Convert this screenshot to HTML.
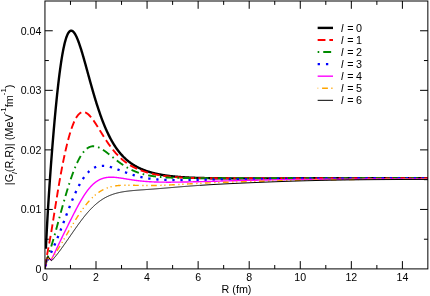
<!DOCTYPE html>
<html><head><meta charset="utf-8"><title>chart</title>
<style>html,body{margin:0;padding:0;background:#fff;overflow:hidden}svg{display:block;will-change:transform}</style></head>
<body>
<svg width="430" height="296" viewBox="0 0 430 296">
<rect width="430" height="296" fill="#fff"/>
<clipPath id="c"><rect x="44.95" y="1.0" width="382.90000000000003" height="267.9"/></clipPath>
<g clip-path="url(#c)" fill="none" stroke-linejoin="round">
<path d="M45.85,248.81 L46.10,243.67 L46.35,238.70 L46.60,233.86 L46.85,229.16 L47.10,224.59 L47.35,220.13 L47.60,215.79 L47.85,211.54 L48.10,207.39 L48.35,203.32 L48.60,199.34 L48.85,195.44 L49.10,191.60 L49.35,187.84 L49.60,184.14 L49.85,180.51 L50.10,176.93 L50.35,173.41 L50.60,169.94 L50.85,166.52 L51.10,163.15 L51.35,159.83 L51.60,156.55 L51.85,153.31 L52.10,150.12 L52.35,146.98 L52.60,143.87 L52.85,140.80 L53.10,137.78 L53.35,134.79 L53.60,131.85 L53.85,128.94 L54.10,126.07 L54.35,123.24 L54.60,120.45 L54.85,117.70 L55.10,114.99 L55.35,112.32 L55.60,109.68 L55.85,107.09 L56.10,104.54 L56.35,102.03 L56.60,99.56 L56.85,97.13 L57.10,94.74 L57.35,92.39 L57.60,90.09 L57.85,87.83 L58.10,85.61 L58.35,83.43 L58.60,81.30 L58.85,79.21 L59.10,77.17 L59.35,75.17 L59.60,73.21 L59.85,71.30 L60.10,69.43 L60.35,67.61 L60.60,65.83 L60.85,64.10 L61.10,62.41 L61.35,60.77 L61.60,59.18 L61.85,57.63 L62.10,56.13 L62.35,54.67 L62.60,53.26 L62.85,51.89 L63.10,50.57 L63.35,49.29 L63.60,48.06 L63.85,46.88 L64.10,45.74 L64.35,44.64 L64.60,43.59 L64.85,42.58 L65.10,41.62 L65.35,40.70 L65.60,39.82 L65.85,38.99 L66.10,38.20 L66.35,37.45 L66.60,36.75 L66.85,36.08 L67.10,35.46 L67.35,34.88 L67.60,34.33 L67.85,33.83 L68.10,33.37 L68.35,32.94 L68.60,32.56 L68.85,32.21 L69.10,31.90 L69.35,31.62 L69.60,31.38 L69.85,31.18 L70.10,31.01 L70.35,30.88 L70.60,30.78 L70.85,30.72 L71.10,30.68 L71.35,30.68 L71.60,30.71 L71.85,30.78 L72.10,30.87 L72.35,30.99 L72.60,31.14 L72.85,31.32 L73.10,31.53 L73.35,31.77 L73.60,32.03 L73.85,32.32 L74.10,32.63 L74.35,32.97 L74.60,33.34 L74.85,33.72 L75.10,34.13 L75.35,34.57 L75.60,35.02 L75.85,35.50 L76.10,35.99 L76.35,36.51 L76.60,37.05 L76.85,37.60 L77.10,38.18 L77.35,38.77 L77.60,39.38 L77.85,40.00 L78.10,40.64 L78.35,41.30 L78.60,41.97 L78.85,42.66 L79.10,43.36 L79.35,44.08 L79.60,44.80 L79.85,45.54 L80.10,46.30 L80.35,47.06 L80.60,47.83 L80.85,48.62 L81.10,49.41 L81.35,50.22 L81.60,51.03 L81.85,51.85 L82.10,52.68 L82.35,53.52 L82.60,54.37 L82.85,55.22 L83.10,56.08 L83.35,56.94 L83.60,57.81 L83.85,58.69 L84.10,59.57 L84.35,60.46 L84.60,61.34 L84.85,62.24 L85.10,63.13 L85.35,64.03 L85.60,64.94 L85.85,65.84 L86.10,66.75 L86.35,67.66 L86.60,68.57 L86.85,69.48 L87.10,70.39 L87.35,71.31 L87.60,72.22 L87.85,73.13 L88.10,74.05 L88.35,74.96 L88.60,75.87 L88.85,76.78 L89.10,77.69 L89.35,78.60 L89.60,79.51 L89.85,80.42 L90.10,81.32 L90.35,82.22 L90.60,83.12 L90.85,84.02 L91.10,84.91 L91.35,85.80 L91.60,86.69 L91.85,87.57 L92.10,88.45 L92.35,89.33 L92.60,90.20 L92.85,91.07 L93.10,91.94 L93.35,92.80 L93.60,93.66 L93.85,94.51 L94.10,95.36 L94.35,96.20 L94.60,97.04 L94.85,97.87 L95.10,98.70 L95.35,99.53 L95.60,100.35 L95.85,101.16 L96.10,101.97 L96.35,102.77 L96.60,103.57 L96.85,104.36 L97.10,105.15 L97.35,105.93 L97.60,106.70 L97.85,107.47 L98.10,108.24 L98.35,109.00 L98.60,109.75 L98.85,110.49 L99.10,111.23 L99.35,111.97 L99.60,112.70 L99.85,113.42 L100.10,114.14 L100.35,114.85 L100.60,115.55 L100.85,116.25 L101.10,116.94 L101.35,117.63 L101.60,118.31 L101.85,118.98 L102.10,119.65 L102.35,120.31 L102.60,120.96 L102.85,121.61 L103.10,122.26 L103.35,122.89 L103.60,123.53 L103.85,124.15 L104.10,124.77 L104.35,125.38 L104.60,125.99 L104.85,126.59 L105.10,127.18 L105.35,127.77 L105.60,128.35 L105.85,128.93 L106.10,129.50 L106.35,130.07 L106.60,130.63 L106.85,131.18 L107.10,131.73 L107.35,132.27 L107.60,132.80 L107.85,133.33 L108.10,133.86 L108.35,134.38 L108.60,134.89 L108.85,135.40 L109.10,135.90 L109.35,136.40 L109.60,136.89 L109.85,137.38 L110.10,137.86 L110.35,138.33 L110.60,138.80 L110.85,139.26 L111.10,139.72 L111.35,140.18 L111.60,140.63 L111.85,141.07 L112.10,141.51 L112.35,141.94 L112.60,142.37 L112.85,142.80 L113.10,143.22 L113.35,143.63 L113.60,144.04 L113.85,144.44 L114.10,144.84 L114.35,145.24 L114.60,145.63 L114.85,146.02 L115.10,146.40 L115.35,146.77 L115.60,147.15 L115.85,147.51 L116.10,147.88 L116.35,148.24 L116.60,148.59 L116.85,148.94 L117.10,149.29 L117.35,149.63 L117.60,149.97 L117.85,150.31 L118.10,150.64 L118.35,150.96 L118.60,151.29 L118.85,151.61 L119.10,151.92 L119.35,152.23 L119.60,152.54 L119.85,152.84 L120.10,153.14 L120.35,153.44 L120.60,153.73 L120.85,154.02 L121.10,154.31 L121.35,154.59 L121.60,154.87 L121.85,155.14 L122.10,155.42 L122.35,155.69 L122.60,155.95 L122.85,156.21 L123.10,156.47 L123.35,156.73 L123.60,156.98 L123.85,157.23 L124.10,157.48 L124.35,157.72 L124.60,157.97 L124.85,158.20 L125.10,158.44 L125.35,158.67 L125.60,158.90 L125.85,159.13 L126.10,159.35 L126.35,159.57 L126.60,159.79 L126.85,160.01 L127.10,160.22 L127.35,160.43 L127.60,160.64 L127.85,160.85 L128.10,161.05 L128.35,161.25 L128.60,161.45 L128.85,161.65 L129.10,161.84 L129.35,162.03 L129.60,162.22 L129.85,162.41 L130.10,162.59 L130.35,162.77 L130.60,162.95 L130.85,163.13 L131.10,163.31 L131.35,163.48 L131.60,163.65 L131.85,163.82 L132.10,163.99 L132.35,164.16 L132.60,164.32 L132.85,164.48 L133.10,164.64 L133.35,164.80 L133.60,164.96 L133.85,165.11 L134.10,165.26 L134.35,165.42 L134.60,165.56 L134.85,165.71 L135.10,165.86 L135.35,166.00 L135.60,166.14 L135.85,166.28 L136.10,166.42 L136.35,166.56 L136.60,166.70 L136.85,166.83 L137.10,166.96 L137.35,167.09 L137.60,167.22 L137.85,167.35 L138.10,167.48 L138.35,167.60 L138.60,167.73 L138.85,167.85 L139.10,167.97 L139.35,168.09 L139.60,168.21 L139.85,168.32 L140.10,168.44 L140.35,168.55 L140.60,168.67 L140.85,168.78 L141.10,168.89 L141.35,169.00 L141.60,169.10 L141.85,169.21 L142.10,169.32 L142.35,169.42 L142.60,169.52 L142.85,169.62 L143.10,169.73 L143.35,169.83 L143.60,169.92 L143.85,170.02 L144.10,170.12 L144.35,170.21 L144.60,170.31 L144.85,170.40 L145.10,170.49 L145.35,170.58 L145.60,170.67 L145.85,170.76 L146.10,170.85 L146.35,170.94 L146.60,171.02 L146.85,171.11 L147.10,171.19 L147.35,171.27 L147.60,171.36 L147.85,171.44 L148.10,171.52 L148.35,171.60 L148.60,171.68 L148.85,171.75 L149.10,171.83 L149.35,171.91 L149.60,171.98 L149.85,172.06 L150.10,172.13 L150.35,172.20 L150.60,172.28 L150.85,172.35 L151.10,172.42 L151.35,172.49 L151.60,172.56 L151.85,172.62 L152.10,172.69 L152.35,172.76 L152.60,172.82 L152.85,172.89 L153.10,172.95 L153.35,173.02 L153.60,173.08 L153.85,173.14 L154.10,173.21 L154.35,173.27 L154.60,173.33 L154.85,173.39 L155.10,173.45 L155.35,173.51 L155.60,173.56 L155.85,173.62 L156.10,173.68 L156.35,173.73 L156.60,173.79 L156.85,173.84 L157.10,173.90 L157.35,173.95 L157.60,174.00 L157.85,174.06 L158.10,174.11 L158.35,174.16 L158.60,174.21 L158.85,174.26 L159.10,174.31 L159.35,174.36 L159.60,174.41 L159.85,174.46 L160.10,174.50 L160.35,174.55 L160.60,174.60 L160.85,174.64 L161.10,174.69 L161.35,174.73 L161.60,174.78 L161.85,174.82 L162.10,174.87 L162.35,174.91 L162.60,174.95 L162.85,174.99 L163.10,175.04 L163.35,175.08 L163.60,175.12 L163.85,175.16 L164.10,175.20 L164.35,175.24 L164.60,175.28 L164.85,175.32 L165.10,175.35 L165.35,175.39 L165.60,175.43 L165.85,175.47 L166.10,175.50 L166.35,175.54 L166.60,175.57 L166.85,175.61 L167.10,175.64 L167.35,175.68 L167.60,175.71 L167.85,175.75 L168.10,175.78 L168.35,175.81 L168.60,175.85 L168.85,175.88 L169.10,175.91 L169.35,175.94 L169.60,175.97 L169.85,176.00 L170.10,176.04 L170.35,176.07 L170.60,176.10 L170.85,176.12 L171.10,176.15 L171.35,176.18 L171.60,176.21 L171.85,176.24 L172.10,176.27 L172.35,176.30 L172.60,176.32 L172.85,176.35 L173.10,176.38 L173.35,176.40 L173.60,176.43 L173.85,176.45 L174.10,176.48 L174.35,176.50 L174.60,176.53 L174.85,176.55 L175.10,176.58 L175.35,176.60 L175.60,176.63 L175.85,176.65 L176.10,176.67 L176.35,176.70 L176.60,176.72 L176.85,176.74 L177.10,176.76 L177.35,176.79 L177.60,176.81 L177.85,176.83 L178.10,176.85 L178.35,176.87 L178.60,176.89 L178.85,176.91 L179.10,176.93 L179.35,176.95 L179.60,176.97 L179.85,176.99 L180.10,177.01 L180.35,177.03 L180.60,177.05 L180.85,177.07 L181.10,177.08 L181.35,177.10 L181.60,177.12 L181.85,177.14 L182.10,177.16 L182.35,177.17 L182.60,177.19 L182.85,177.21 L183.10,177.22 L183.35,177.24 L183.60,177.26 L183.85,177.27 L184.10,177.29 L184.35,177.30 L184.60,177.32 L184.85,177.33 L185.10,177.35 L185.35,177.36 L185.60,177.38 L185.85,177.39 L186.10,177.41 L186.35,177.42 L186.60,177.44 L186.85,177.45 L187.10,177.46 L187.35,177.48 L187.60,177.49 L187.85,177.50 L188.10,177.52 L188.35,177.53 L188.60,177.54 L188.85,177.55 L189.10,177.57 L189.35,177.58 L189.60,177.59 L189.85,177.60 L190.10,177.61 L190.35,177.63 L190.60,177.64 L190.85,177.65 L191.10,177.66 L191.35,177.67 L191.60,177.68 L191.85,177.69 L192.10,177.70 L192.35,177.71 L192.60,177.72 L192.85,177.73 L193.10,177.74 L193.35,177.75 L193.60,177.76 L193.85,177.77 L194.10,177.78 L194.35,177.79 L194.60,177.80 L194.85,177.81 L195.10,177.82 L195.35,177.83 L195.60,177.84 L195.85,177.84 L196.10,177.85 L196.35,177.86 L196.60,177.87 L196.85,177.88 L197.10,177.89 L197.35,177.89 L197.60,177.90 L197.85,177.91 L198.10,177.92 L198.35,177.92 L198.60,177.93 L198.85,177.94 L199.10,177.95 L199.35,177.95 L199.60,177.96 L199.85,177.97 L200.00,177.97 L201.00,178.00 L202.00,178.02 L203.00,178.05 L204.00,178.07 L205.00,178.09 L206.00,178.11 L207.00,178.13 L208.00,178.14 L209.00,178.16 L210.00,178.18 L211.00,178.19 L212.00,178.20 L213.00,178.22 L214.00,178.23 L215.00,178.24 L216.00,178.25 L217.00,178.26 L218.00,178.27 L219.00,178.28 L220.00,178.28 L221.00,178.29 L222.00,178.30 L223.00,178.30 L224.00,178.31 L225.00,178.31 L226.00,178.32 L227.00,178.32 L228.00,178.33 L229.00,178.33 L230.00,178.33 L231.00,178.34 L232.00,178.34 L233.00,178.34 L234.00,178.34 L235.00,178.35 L236.00,178.35 L237.00,178.35 L238.00,178.35 L239.00,178.35 L240.00,178.35 L241.00,178.35 L242.00,178.35 L243.00,178.35 L244.00,178.36 L245.00,178.36 L246.00,178.36 L247.00,178.36 L248.00,178.36 L249.00,178.36 L250.00,178.36 L251.00,178.35 L252.00,178.35 L253.00,178.35 L254.00,178.35 L255.00,178.35 L256.00,178.35 L257.00,178.35 L258.00,178.35 L259.00,178.35 L260.00,178.35 L261.00,178.35 L262.00,178.35 L263.00,178.35 L264.00,178.35 L265.00,178.35 L266.00,178.34 L267.00,178.34 L268.00,178.34 L269.00,178.34 L270.00,178.34 L271.00,178.34 L272.00,178.34 L273.00,178.34 L274.00,178.34 L275.00,178.34 L276.00,178.34 L277.00,178.34 L278.00,178.33 L279.00,178.33 L280.00,178.33 L281.00,178.33 L282.00,178.33 L283.00,178.33 L284.00,178.33 L285.00,178.33 L286.00,178.33 L287.00,178.33 L288.00,178.33 L289.00,178.33 L290.00,178.33 L291.00,178.32 L292.00,178.32 L293.00,178.32 L294.00,178.32 L295.00,178.32 L296.00,178.32 L297.00,178.32 L298.00,178.32 L299.00,178.32 L300.00,178.32 L301.00,178.32 L302.00,178.32 L303.00,178.32 L304.00,178.32 L305.00,178.32 L306.00,178.32 L307.00,178.32 L308.00,178.32 L309.00,178.31 L310.00,178.31 L311.00,178.31 L312.00,178.31 L313.00,178.31 L314.00,178.31 L315.00,178.31 L316.00,178.31 L317.00,178.31 L318.00,178.31 L319.00,178.31 L320.00,178.31 L321.00,178.31 L322.00,178.31 L323.00,178.31 L324.00,178.31 L325.00,178.31 L326.00,178.31 L327.00,178.31 L328.00,178.31 L329.00,178.31 L330.00,178.31 L331.00,178.31 L332.00,178.31 L333.00,178.31 L334.00,178.31 L335.00,178.31 L336.00,178.31 L337.00,178.31 L338.00,178.31 L339.00,178.31 L340.00,178.31 L341.00,178.31 L342.00,178.31 L343.00,178.31 L344.00,178.31 L345.00,178.30 L346.00,178.30 L347.00,178.30 L348.00,178.30 L349.00,178.30 L350.00,178.30 L351.00,178.30 L352.00,178.30 L353.00,178.30 L354.00,178.30 L355.00,178.30 L356.00,178.30 L357.00,178.30 L358.00,178.30 L359.00,178.30 L360.00,178.30 L361.00,178.30 L362.00,178.30 L363.00,178.30 L364.00,178.30 L365.00,178.30 L366.00,178.30 L367.00,178.30 L368.00,178.30 L369.00,178.30 L370.00,178.30 L371.00,178.30 L372.00,178.30 L373.00,178.30 L374.00,178.30 L375.00,178.30 L376.00,178.30 L377.00,178.30 L378.00,178.30 L379.00,178.30 L380.00,178.30 L381.00,178.30 L382.00,178.30 L383.00,178.30 L384.00,178.30 L385.00,178.30 L386.00,178.30 L387.00,178.30 L388.00,178.30 L389.00,178.30 L390.00,178.30 L391.00,178.30 L392.00,178.30 L393.00,178.30 L394.00,178.30 L395.00,178.30 L396.00,178.30 L397.00,178.30 L398.00,178.30 L399.00,178.30 L400.00,178.30 L401.00,178.30 L402.00,178.30 L403.00,178.30 L404.00,178.30 L405.00,178.30 L406.00,178.30 L407.00,178.30 L408.00,178.30 L409.00,178.30 L410.00,178.30 L411.00,178.30 L412.00,178.30 L413.00,178.30 L414.00,178.30 L415.00,178.30 L416.00,178.30 L417.00,178.30 L418.00,178.30 L419.00,178.30 L420.00,178.30 L421.00,178.30 L422.00,178.30 L423.00,178.30 L424.00,178.30 L425.00,178.30 L426.00,178.30 L427.00,178.30 L427.90,178.30" stroke="#000" stroke-width="2.4"/>
<path d="M44.95,268.91 L45.20,266.83 L45.45,264.91 L45.70,263.12 L45.95,261.44 L46.20,259.86 L46.45,258.35 L46.70,256.90 L46.95,255.50 L47.20,254.13 L47.45,252.79 L47.70,251.46 L47.95,250.15 L48.20,248.84 L48.45,247.52 L48.70,246.21 L48.95,244.88 L49.20,243.54 L49.45,242.19 L49.70,240.82 L49.95,239.44 L50.20,238.04 L50.45,236.63 L50.70,235.20 L50.95,233.75 L51.20,232.28 L51.45,230.80 L51.70,229.31 L51.95,227.80 L52.20,226.28 L52.45,224.75 L52.70,223.21 L52.95,221.66 L53.20,220.10 L53.45,218.54 L53.70,216.97 L53.95,215.40 L54.20,213.82 L54.45,212.24 L54.70,210.66 L54.95,209.08 L55.20,207.51 L55.45,205.93 L55.70,204.36 L55.95,202.79 L56.20,201.23 L56.45,199.67 L56.70,198.12 L56.95,196.58 L57.20,195.05 L57.45,193.52 L57.70,192.00 L57.95,190.49 L58.20,188.99 L58.45,187.51 L58.70,186.03 L58.95,184.56 L59.20,183.11 L59.45,181.66 L59.70,180.23 L59.95,178.81 L60.20,177.40 L60.45,176.01 L60.70,174.63 L60.95,173.26 L61.20,171.91 L61.45,170.56 L61.70,169.24 L61.95,167.92 L62.20,166.62 L62.45,165.33 L62.70,164.06 L62.95,162.80 L63.20,161.55 L63.45,160.32 L63.70,159.11 L63.95,157.90 L64.20,156.72 L64.45,155.54 L64.70,154.38 L64.95,153.24 L65.20,152.11 L65.45,150.99 L65.70,149.89 L65.95,148.80 L66.20,147.73 L66.45,146.68 L66.70,145.64 L66.95,144.61 L67.20,143.60 L67.45,142.60 L67.70,141.62 L67.95,140.66 L68.20,139.71 L68.45,138.77 L68.70,137.85 L68.95,136.95 L69.20,136.06 L69.45,135.19 L69.70,134.33 L69.95,133.49 L70.20,132.67 L70.45,131.86 L70.70,131.07 L70.95,130.29 L71.20,129.53 L71.45,128.78 L71.70,128.06 L71.95,127.35 L72.20,126.65 L72.45,125.97 L72.70,125.31 L72.95,124.66 L73.20,124.03 L73.45,123.42 L73.70,122.83 L73.95,122.25 L74.20,121.68 L74.45,121.14 L74.70,120.61 L74.95,120.09 L75.20,119.59 L75.45,119.11 L75.70,118.65 L75.95,118.20 L76.20,117.77 L76.45,117.36 L76.70,116.96 L76.95,116.58 L77.20,116.21 L77.45,115.86 L77.70,115.53 L77.95,115.21 L78.20,114.91 L78.45,114.62 L78.70,114.35 L78.95,114.10 L79.20,113.86 L79.45,113.63 L79.70,113.43 L79.95,113.23 L80.20,113.06 L80.45,112.89 L80.70,112.74 L80.95,112.61 L81.20,112.49 L81.45,112.39 L81.70,112.29 L81.95,112.22 L82.20,112.16 L82.45,112.11 L82.70,112.07 L82.95,112.05 L83.20,112.04 L83.45,112.04 L83.70,112.06 L83.95,112.09 L84.20,112.13 L84.45,112.18 L84.70,112.25 L84.95,112.33 L85.20,112.41 L85.45,112.51 L85.70,112.63 L85.95,112.75 L86.20,112.88 L86.45,113.02 L86.70,113.18 L86.95,113.34 L87.20,113.52 L87.45,113.70 L87.70,113.89 L87.95,114.09 L88.20,114.30 L88.45,114.52 L88.70,114.75 L88.95,114.99 L89.20,115.23 L89.45,115.49 L89.70,115.75 L89.95,116.01 L90.20,116.29 L90.45,116.57 L90.70,116.86 L90.95,117.15 L91.20,117.46 L91.45,117.76 L91.70,118.08 L91.95,118.40 L92.20,118.72 L92.45,119.05 L92.70,119.39 L92.95,119.73 L93.20,120.07 L93.45,120.42 L93.70,120.77 L93.95,121.13 L94.20,121.49 L94.45,121.86 L94.70,122.23 L94.95,122.60 L95.20,122.98 L95.45,123.35 L95.70,123.74 L95.95,124.12 L96.20,124.51 L96.45,124.90 L96.70,125.29 L96.95,125.68 L97.20,126.07 L97.45,126.47 L97.70,126.87 L97.95,127.27 L98.20,127.67 L98.45,128.07 L98.70,128.47 L98.95,128.88 L99.20,129.28 L99.45,129.69 L99.70,130.09 L99.95,130.50 L100.20,130.90 L100.45,131.31 L100.70,131.71 L100.95,132.12 L101.20,132.52 L101.45,132.93 L101.70,133.33 L101.95,133.73 L102.20,134.14 L102.45,134.54 L102.70,134.94 L102.95,135.34 L103.20,135.74 L103.45,136.14 L103.70,136.53 L103.95,136.93 L104.20,137.32 L104.45,137.71 L104.70,138.10 L104.95,138.49 L105.20,138.88 L105.45,139.26 L105.70,139.65 L105.95,140.03 L106.20,140.41 L106.45,140.79 L106.70,141.16 L106.95,141.54 L107.20,141.91 L107.45,142.28 L107.70,142.64 L107.95,143.01 L108.20,143.37 L108.45,143.73 L108.70,144.09 L108.95,144.44 L109.20,144.80 L109.45,145.15 L109.70,145.50 L109.95,145.84 L110.20,146.18 L110.45,146.52 L110.70,146.86 L110.95,147.20 L111.20,147.53 L111.45,147.86 L111.70,148.18 L111.95,148.51 L112.20,148.83 L112.45,149.15 L112.70,149.46 L112.95,149.78 L113.20,150.09 L113.45,150.40 L113.70,150.70 L113.95,151.00 L114.20,151.30 L114.45,151.60 L114.70,151.89 L114.95,152.18 L115.20,152.47 L115.45,152.76 L115.70,153.04 L115.95,153.32 L116.20,153.60 L116.45,153.88 L116.70,154.15 L116.95,154.42 L117.20,154.68 L117.45,154.95 L117.70,155.21 L117.95,155.47 L118.20,155.73 L118.45,155.98 L118.70,156.23 L118.95,156.48 L119.20,156.73 L119.45,156.97 L119.70,157.21 L119.95,157.45 L120.20,157.68 L120.45,157.92 L120.70,158.15 L120.95,158.38 L121.20,158.60 L121.45,158.83 L121.70,159.05 L121.95,159.27 L122.20,159.48 L122.45,159.70 L122.70,159.91 L122.95,160.12 L123.20,160.32 L123.45,160.53 L123.70,160.73 L123.95,160.93 L124.20,161.13 L124.45,161.33 L124.70,161.52 L124.95,161.71 L125.20,161.90 L125.45,162.09 L125.70,162.27 L125.95,162.46 L126.20,162.64 L126.45,162.82 L126.70,162.99 L126.95,163.17 L127.20,163.34 L127.45,163.51 L127.70,163.68 L127.95,163.85 L128.20,164.02 L128.45,164.18 L128.70,164.34 L128.95,164.50 L129.20,164.66 L129.45,164.82 L129.70,164.97 L129.95,165.13 L130.20,165.28 L130.45,165.43 L130.70,165.57 L130.95,165.72 L131.20,165.87 L131.45,166.01 L131.70,166.15 L131.95,166.29 L132.20,166.43 L132.45,166.57 L132.70,166.70 L132.95,166.83 L133.20,166.97 L133.45,167.10 L133.70,167.23 L133.95,167.35 L134.20,167.48 L134.45,167.61 L134.70,167.73 L134.95,167.85 L135.20,167.97 L135.45,168.09 L135.70,168.21 L135.95,168.33 L136.20,168.44 L136.45,168.56 L136.70,168.67 L136.95,168.78 L137.20,168.89 L137.45,169.00 L137.70,169.11 L137.95,169.22 L138.20,169.33 L138.45,169.43 L138.70,169.53 L138.95,169.64 L139.20,169.74 L139.45,169.84 L139.70,169.94 L139.95,170.04 L140.20,170.13 L140.45,170.23 L140.70,170.32 L140.95,170.42 L141.20,170.51 L141.45,170.60 L141.70,170.69 L141.95,170.78 L142.20,170.87 L142.45,170.96 L142.70,171.05 L142.95,171.14 L143.20,171.22 L143.45,171.31 L143.70,171.39 L143.95,171.47 L144.20,171.55 L144.45,171.63 L144.70,171.71 L144.95,171.79 L145.20,171.87 L145.45,171.95 L145.70,172.03 L145.95,172.10 L146.20,172.18 L146.45,172.25 L146.70,172.32 L146.95,172.40 L147.20,172.47 L147.45,172.54 L147.70,172.61 L147.95,172.68 L148.20,172.75 L148.45,172.82 L148.70,172.89 L148.95,172.95 L149.20,173.02 L149.45,173.08 L149.70,173.15 L149.95,173.21 L150.20,173.28 L150.45,173.34 L150.70,173.40 L150.95,173.46 L151.20,173.52 L151.45,173.58 L151.70,173.64 L151.95,173.70 L152.20,173.76 L152.45,173.82 L152.70,173.87 L152.95,173.93 L153.20,173.99 L153.45,174.04 L153.70,174.09 L153.95,174.15 L154.20,174.20 L154.45,174.26 L154.70,174.31 L154.95,174.36 L155.20,174.41 L155.45,174.46 L155.70,174.51 L155.95,174.56 L156.20,174.61 L156.45,174.66 L156.70,174.71 L156.95,174.75 L157.20,174.80 L157.45,174.85 L157.70,174.89 L157.95,174.94 L158.20,174.98 L158.45,175.03 L158.70,175.07 L158.95,175.11 L159.20,175.16 L159.45,175.20 L159.70,175.24 L159.95,175.28 L160.20,175.32 L160.45,175.36 L160.70,175.40 L160.95,175.44 L161.20,175.48 L161.45,175.52 L161.70,175.56 L161.95,175.60 L162.20,175.64 L162.45,175.67 L162.70,175.71 L162.95,175.75 L163.20,175.78 L163.45,175.82 L163.70,175.85 L163.95,175.89 L164.20,175.92 L164.45,175.96 L164.70,175.99 L164.95,176.02 L165.20,176.06 L165.45,176.09 L165.70,176.12 L165.95,176.15 L166.20,176.18 L166.45,176.21 L166.70,176.24 L166.95,176.27 L167.20,176.30 L167.45,176.33 L167.70,176.36 L167.95,176.39 L168.20,176.42 L168.45,176.45 L168.70,176.47 L168.95,176.50 L169.20,176.53 L169.45,176.56 L169.70,176.58 L169.95,176.61 L170.20,176.63 L170.45,176.66 L170.70,176.68 L170.95,176.71 L171.20,176.73 L171.45,176.76 L171.70,176.78 L171.95,176.81 L172.20,176.83 L172.45,176.85 L172.70,176.87 L172.95,176.90 L173.20,176.92 L173.45,176.94 L173.70,176.96 L173.95,176.98 L174.20,177.00 L174.45,177.02 L174.70,177.05 L174.95,177.07 L175.20,177.09 L175.45,177.10 L175.70,177.12 L175.95,177.14 L176.20,177.16 L176.45,177.18 L176.70,177.20 L176.95,177.22 L177.20,177.24 L177.45,177.25 L177.70,177.27 L177.95,177.29 L178.20,177.30 L178.45,177.32 L178.70,177.34 L178.95,177.35 L179.20,177.37 L179.45,177.39 L179.70,177.40 L179.95,177.42 L180.20,177.43 L180.45,177.45 L180.70,177.46 L180.95,177.48 L181.20,177.49 L181.45,177.50 L181.70,177.52 L181.95,177.53 L182.20,177.55 L182.45,177.56 L182.70,177.57 L182.95,177.58 L183.20,177.60 L183.45,177.61 L183.70,177.62 L183.95,177.63 L184.20,177.65 L184.45,177.66 L184.70,177.67 L184.95,177.68 L185.20,177.69 L185.45,177.70 L185.70,177.71 L185.95,177.73 L186.20,177.74 L186.45,177.75 L186.70,177.76 L186.95,177.77 L187.20,177.78 L187.45,177.79 L187.70,177.80 L187.95,177.81 L188.20,177.81 L188.45,177.82 L188.70,177.83 L188.95,177.84 L189.20,177.85 L189.45,177.86 L189.70,177.87 L189.95,177.88 L190.20,177.88 L190.45,177.89 L190.70,177.90 L190.95,177.91 L191.20,177.92 L191.45,177.92 L191.70,177.93 L191.95,177.94 L192.20,177.94 L192.45,177.95 L192.70,177.96 L192.95,177.97 L193.20,177.97 L193.45,177.98 L193.70,177.99 L193.95,177.99 L194.20,178.00 L194.45,178.00 L194.70,178.01 L194.95,178.02 L195.20,178.02 L195.45,178.03 L195.70,178.03 L195.95,178.04 L196.20,178.04 L196.45,178.05 L196.70,178.05 L196.95,178.06 L197.20,178.06 L197.45,178.07 L197.70,178.07 L197.95,178.08 L198.20,178.08 L198.45,178.09 L198.70,178.09 L198.95,178.10 L199.20,178.10 L199.45,178.10 L199.70,178.11 L199.95,178.11 L200.00,178.11 L201.00,178.13 L202.00,178.14 L203.00,178.15 L204.00,178.16 L205.00,178.18 L206.00,178.18 L207.00,178.19 L208.00,178.20 L209.00,178.21 L210.00,178.21 L211.00,178.22 L212.00,178.22 L213.00,178.23 L214.00,178.23 L215.00,178.23 L216.00,178.24 L217.00,178.24 L218.00,178.24 L219.00,178.24 L220.00,178.24 L221.00,178.24 L222.00,178.24 L223.00,178.24 L224.00,178.24 L225.00,178.24 L226.00,178.24 L227.00,178.24 L228.00,178.24 L229.00,178.24 L230.00,178.24 L231.00,178.24 L232.00,178.23 L233.00,178.23 L234.00,178.23 L235.00,178.23 L236.00,178.23 L237.00,178.22 L238.00,178.22 L239.00,178.22 L240.00,178.22 L241.00,178.21 L242.00,178.21 L243.00,178.21 L244.00,178.21 L245.00,178.21 L246.00,178.20 L247.00,178.20 L248.00,178.20 L249.00,178.20 L250.00,178.19 L251.00,178.19 L252.00,178.19 L253.00,178.19 L254.00,178.18 L255.00,178.18 L256.00,178.18 L257.00,178.18 L258.00,178.18 L259.00,178.17 L260.00,178.17 L261.00,178.17 L262.00,178.17 L263.00,178.17 L264.00,178.16 L265.00,178.16 L266.00,178.16 L267.00,178.16 L268.00,178.16 L269.00,178.16 L270.00,178.15 L271.00,178.15 L272.00,178.15 L273.00,178.15 L274.00,178.15 L275.00,178.15 L276.00,178.15 L277.00,178.14 L278.00,178.14 L279.00,178.14 L280.00,178.14 L281.00,178.14 L282.00,178.14 L283.00,178.14 L284.00,178.14 L285.00,178.13 L286.00,178.13 L287.00,178.13 L288.00,178.13 L289.00,178.13 L290.00,178.13 L291.00,178.13 L292.00,178.13 L293.00,178.13 L294.00,178.13 L295.00,178.13 L296.00,178.12 L297.00,178.12 L298.00,178.12 L299.00,178.12 L300.00,178.12 L301.00,178.12 L302.00,178.12 L303.00,178.12 L304.00,178.12 L305.00,178.12 L306.00,178.12 L307.00,178.12 L308.00,178.12 L309.00,178.12 L310.00,178.12 L311.00,178.12 L312.00,178.11 L313.00,178.11 L314.00,178.11 L315.00,178.11 L316.00,178.11 L317.00,178.11 L318.00,178.11 L319.00,178.11 L320.00,178.11 L321.00,178.11 L322.00,178.11 L323.00,178.11 L324.00,178.11 L325.00,178.11 L326.00,178.11 L327.00,178.11 L328.00,178.11 L329.00,178.11 L330.00,178.11 L331.00,178.11 L332.00,178.11 L333.00,178.11 L334.00,178.11 L335.00,178.11 L336.00,178.11 L337.00,178.11 L338.00,178.11 L339.00,178.11 L340.00,178.11 L341.00,178.11 L342.00,178.11 L343.00,178.11 L344.00,178.11 L345.00,178.11 L346.00,178.10 L347.00,178.10 L348.00,178.10 L349.00,178.10 L350.00,178.10 L351.00,178.10 L352.00,178.10 L353.00,178.10 L354.00,178.10 L355.00,178.10 L356.00,178.10 L357.00,178.10 L358.00,178.10 L359.00,178.10 L360.00,178.10 L361.00,178.10 L362.00,178.10 L363.00,178.10 L364.00,178.10 L365.00,178.10 L366.00,178.10 L367.00,178.10 L368.00,178.10 L369.00,178.10 L370.00,178.10 L371.00,178.10 L372.00,178.10 L373.00,178.10 L374.00,178.10 L375.00,178.10 L376.00,178.10 L377.00,178.10 L378.00,178.10 L379.00,178.10 L380.00,178.10 L381.00,178.10 L382.00,178.10 L383.00,178.10 L384.00,178.10 L385.00,178.10 L386.00,178.10 L387.00,178.10 L388.00,178.10 L389.00,178.10 L390.00,178.10 L391.00,178.10 L392.00,178.10 L393.00,178.10 L394.00,178.10 L395.00,178.10 L396.00,178.10 L397.00,178.10 L398.00,178.10 L399.00,178.10 L400.00,178.10 L401.00,178.10 L402.00,178.10 L403.00,178.10 L404.00,178.10 L405.00,178.10 L406.00,178.10 L407.00,178.10 L408.00,178.10 L409.00,178.10 L410.00,178.10 L411.00,178.10 L412.00,178.10 L413.00,178.10 L414.00,178.10 L415.00,178.10 L416.00,178.10 L417.00,178.10 L418.00,178.10 L419.00,178.10 L420.00,178.10 L421.00,178.10 L422.00,178.10 L423.00,178.10 L424.00,178.10 L425.00,178.10 L426.00,178.10 L427.00,178.10 L427.90,178.10" stroke="#ff0000" stroke-width="1.9" stroke-dasharray="7.8 3.9" stroke-dashoffset="9.37"/>
<path d="M44.95,268.94 L45.20,267.56 L45.45,266.27 L45.70,265.07 L45.95,263.94 L46.20,262.87 L46.45,261.86 L46.70,260.90 L46.95,259.98 L47.20,259.10 L47.45,258.24 L47.70,257.41 L47.95,256.59 L48.20,255.79 L48.45,255.01 L48.70,254.23 L48.95,253.46 L49.20,252.69 L49.45,251.92 L49.70,251.16 L49.95,250.39 L50.20,249.62 L50.45,248.84 L50.70,248.07 L50.95,247.28 L51.20,246.49 L51.45,245.70 L51.70,244.89 L51.95,244.09 L52.20,243.27 L52.45,242.45 L52.70,241.62 L52.95,240.78 L53.20,239.94 L53.45,239.09 L53.70,238.23 L53.95,237.37 L54.20,236.50 L54.45,235.63 L54.70,234.75 L54.95,233.87 L55.20,232.98 L55.45,232.09 L55.70,231.19 L55.95,230.29 L56.20,229.39 L56.45,228.48 L56.70,227.58 L56.95,226.66 L57.20,225.75 L57.45,224.84 L57.70,223.92 L57.95,223.01 L58.20,222.09 L58.45,221.17 L58.70,220.26 L58.95,219.34 L59.20,218.42 L59.45,217.50 L59.70,216.59 L59.95,215.67 L60.20,214.76 L60.45,213.84 L60.70,212.93 L60.95,212.02 L61.20,211.11 L61.45,210.21 L61.70,209.30 L61.95,208.40 L62.20,207.50 L62.45,206.61 L62.70,205.71 L62.95,204.82 L63.20,203.94 L63.45,203.05 L63.70,202.17 L63.95,201.29 L64.20,200.42 L64.45,199.55 L64.70,198.68 L64.95,197.82 L65.20,196.96 L65.45,196.11 L65.70,195.26 L65.95,194.41 L66.20,193.57 L66.45,192.74 L66.70,191.91 L66.95,191.08 L67.20,190.26 L67.45,189.44 L67.70,188.63 L67.95,187.83 L68.20,187.03 L68.45,186.23 L68.70,185.44 L68.95,184.66 L69.20,183.88 L69.45,183.11 L69.70,182.34 L69.95,181.59 L70.20,180.83 L70.45,180.09 L70.70,179.35 L70.95,178.61 L71.20,177.89 L71.45,177.17 L71.70,176.45 L71.95,175.75 L72.20,175.05 L72.45,174.35 L72.70,173.67 L72.95,172.99 L73.20,172.32 L73.45,171.66 L73.70,171.01 L73.95,170.36 L74.20,169.72 L74.45,169.09 L74.70,168.46 L74.95,167.85 L75.20,167.24 L75.45,166.64 L75.70,166.05 L75.95,165.47 L76.20,164.89 L76.45,164.33 L76.70,163.77 L76.95,163.22 L77.20,162.68 L77.45,162.15 L77.70,161.63 L77.95,161.11 L78.20,160.61 L78.45,160.11 L78.70,159.62 L78.95,159.15 L79.20,158.68 L79.45,158.22 L79.70,157.76 L79.95,157.32 L80.20,156.89 L80.45,156.46 L80.70,156.05 L80.95,155.64 L81.20,155.24 L81.45,154.85 L81.70,154.47 L81.95,154.10 L82.20,153.74 L82.45,153.39 L82.70,153.05 L82.95,152.71 L83.20,152.39 L83.45,152.07 L83.70,151.77 L83.95,151.47 L84.20,151.18 L84.45,150.90 L84.70,150.63 L84.95,150.36 L85.20,150.11 L85.45,149.86 L85.70,149.63 L85.95,149.40 L86.20,149.18 L86.45,148.97 L86.70,148.77 L86.95,148.57 L87.20,148.39 L87.45,148.21 L87.70,148.04 L87.95,147.88 L88.20,147.73 L88.45,147.58 L88.70,147.44 L88.95,147.31 L89.20,147.19 L89.45,147.08 L89.70,146.97 L89.95,146.87 L90.20,146.78 L90.45,146.70 L90.70,146.62 L90.95,146.55 L91.20,146.49 L91.45,146.44 L91.70,146.39 L91.95,146.35 L92.20,146.31 L92.45,146.28 L92.70,146.26 L92.95,146.25 L93.20,146.24 L93.45,146.24 L93.70,146.24 L93.95,146.25 L94.20,146.26 L94.45,146.29 L94.70,146.31 L94.95,146.35 L95.20,146.38 L95.45,146.43 L95.70,146.48 L95.95,146.53 L96.20,146.59 L96.45,146.66 L96.70,146.73 L96.95,146.80 L97.20,146.88 L97.45,146.96 L97.70,147.05 L97.95,147.15 L98.20,147.24 L98.45,147.34 L98.70,147.45 L98.95,147.56 L99.20,147.67 L99.45,147.79 L99.70,147.91 L99.95,148.04 L100.20,148.17 L100.45,148.30 L100.70,148.43 L100.95,148.57 L101.20,148.71 L101.45,148.86 L101.70,149.01 L101.95,149.16 L102.20,149.31 L102.45,149.47 L102.70,149.62 L102.95,149.79 L103.20,149.95 L103.45,150.11 L103.70,150.28 L103.95,150.45 L104.20,150.63 L104.45,150.80 L104.70,150.98 L104.95,151.16 L105.20,151.34 L105.45,151.52 L105.70,151.70 L105.95,151.89 L106.20,152.07 L106.45,152.26 L106.70,152.45 L106.95,152.64 L107.20,152.83 L107.45,153.02 L107.70,153.22 L107.95,153.41 L108.20,153.61 L108.45,153.80 L108.70,154.00 L108.95,154.20 L109.20,154.40 L109.45,154.60 L109.70,154.80 L109.95,155.00 L110.20,155.20 L110.45,155.40 L110.70,155.60 L110.95,155.80 L111.20,156.00 L111.45,156.20 L111.70,156.40 L111.95,156.60 L112.20,156.81 L112.45,157.01 L112.70,157.21 L112.95,157.41 L113.20,157.61 L113.45,157.81 L113.70,158.01 L113.95,158.21 L114.20,158.41 L114.45,158.61 L114.70,158.81 L114.95,159.01 L115.20,159.20 L115.45,159.40 L115.70,159.60 L115.95,159.79 L116.20,159.99 L116.45,160.18 L116.70,160.38 L116.95,160.57 L117.20,160.76 L117.45,160.95 L117.70,161.14 L117.95,161.33 L118.20,161.52 L118.45,161.71 L118.70,161.90 L118.95,162.08 L119.20,162.27 L119.45,162.45 L119.70,162.63 L119.95,162.81 L120.20,162.99 L120.45,163.17 L120.70,163.35 L120.95,163.53 L121.20,163.70 L121.45,163.88 L121.70,164.05 L121.95,164.23 L122.20,164.40 L122.45,164.57 L122.70,164.74 L122.95,164.90 L123.20,165.07 L123.45,165.23 L123.70,165.40 L123.95,165.56 L124.20,165.72 L124.45,165.88 L124.70,166.04 L124.95,166.20 L125.20,166.35 L125.45,166.51 L125.70,166.66 L125.95,166.81 L126.20,166.96 L126.45,167.11 L126.70,167.26 L126.95,167.41 L127.20,167.55 L127.45,167.69 L127.70,167.84 L127.95,167.98 L128.20,168.12 L128.45,168.26 L128.70,168.39 L128.95,168.53 L129.20,168.66 L129.45,168.79 L129.70,168.93 L129.95,169.06 L130.20,169.19 L130.45,169.31 L130.70,169.44 L130.95,169.56 L131.20,169.69 L131.45,169.81 L131.70,169.93 L131.95,170.05 L132.20,170.17 L132.45,170.28 L132.70,170.40 L132.95,170.51 L133.20,170.63 L133.45,170.74 L133.70,170.85 L133.95,170.96 L134.20,171.07 L134.45,171.17 L134.70,171.28 L134.95,171.38 L135.20,171.48 L135.45,171.59 L135.70,171.69 L135.95,171.79 L136.20,171.88 L136.45,171.98 L136.70,172.08 L136.95,172.17 L137.20,172.26 L137.45,172.36 L137.70,172.45 L137.95,172.54 L138.20,172.62 L138.45,172.71 L138.70,172.80 L138.95,172.88 L139.20,172.97 L139.45,173.05 L139.70,173.13 L139.95,173.21 L140.20,173.29 L140.45,173.37 L140.70,173.45 L140.95,173.52 L141.20,173.60 L141.45,173.67 L141.70,173.75 L141.95,173.82 L142.20,173.89 L142.45,173.96 L142.70,174.03 L142.95,174.10 L143.20,174.17 L143.45,174.23 L143.70,174.30 L143.95,174.36 L144.20,174.43 L144.45,174.49 L144.70,174.55 L144.95,174.61 L145.20,174.67 L145.45,174.73 L145.70,174.79 L145.95,174.85 L146.20,174.90 L146.45,174.96 L146.70,175.01 L146.95,175.07 L147.20,175.12 L147.45,175.17 L147.70,175.23 L147.95,175.28 L148.20,175.33 L148.45,175.38 L148.70,175.43 L148.95,175.47 L149.20,175.52 L149.45,175.57 L149.70,175.61 L149.95,175.66 L150.20,175.70 L150.45,175.75 L150.70,175.79 L150.95,175.83 L151.20,175.87 L151.45,175.91 L151.70,175.95 L151.95,175.99 L152.20,176.03 L152.45,176.07 L152.70,176.11 L152.95,176.15 L153.20,176.18 L153.45,176.22 L153.70,176.25 L153.95,176.29 L154.20,176.32 L154.45,176.36 L154.70,176.39 L154.95,176.42 L155.20,176.45 L155.45,176.49 L155.70,176.52 L155.95,176.55 L156.20,176.58 L156.45,176.61 L156.70,176.63 L156.95,176.66 L157.20,176.69 L157.45,176.72 L157.70,176.75 L157.95,176.77 L158.20,176.80 L158.45,176.82 L158.70,176.85 L158.95,176.87 L159.20,176.90 L159.45,176.92 L159.70,176.95 L159.95,176.97 L160.20,176.99 L160.45,177.01 L160.70,177.04 L160.95,177.06 L161.20,177.08 L161.45,177.10 L161.70,177.12 L161.95,177.14 L162.20,177.16 L162.45,177.18 L162.70,177.20 L162.95,177.22 L163.20,177.23 L163.45,177.25 L163.70,177.27 L163.95,177.29 L164.20,177.30 L164.45,177.32 L164.70,177.34 L164.95,177.35 L165.20,177.37 L165.45,177.38 L165.70,177.40 L165.95,177.41 L166.20,177.43 L166.45,177.44 L166.70,177.46 L166.95,177.47 L167.20,177.48 L167.45,177.50 L167.70,177.51 L167.95,177.52 L168.20,177.54 L168.45,177.55 L168.70,177.56 L168.95,177.57 L169.20,177.58 L169.45,177.60 L169.70,177.61 L169.95,177.62 L170.20,177.63 L170.45,177.64 L170.70,177.65 L170.95,177.66 L171.20,177.67 L171.45,177.68 L171.70,177.69 L171.95,177.70 L172.20,177.71 L172.45,177.72 L172.70,177.72 L172.95,177.73 L173.20,177.74 L173.45,177.75 L173.70,177.76 L173.95,177.77 L174.20,177.77 L174.45,177.78 L174.70,177.79 L174.95,177.80 L175.20,177.80 L175.45,177.81 L175.70,177.82 L175.95,177.82 L176.20,177.83 L176.45,177.84 L176.70,177.84 L176.95,177.85 L177.20,177.86 L177.45,177.86 L177.70,177.87 L177.95,177.87 L178.20,177.88 L178.45,177.88 L178.70,177.89 L178.95,177.90 L179.20,177.90 L179.45,177.91 L179.70,177.91 L179.95,177.92 L180.20,177.92 L180.45,177.92 L180.70,177.93 L180.95,177.93 L181.20,177.94 L181.45,177.94 L181.70,177.95 L181.95,177.95 L182.20,177.95 L182.45,177.96 L182.70,177.96 L182.95,177.97 L183.20,177.97 L183.45,177.97 L183.70,177.98 L183.95,177.98 L184.20,177.98 L184.45,177.99 L184.70,177.99 L184.95,177.99 L185.20,178.00 L185.45,178.00 L185.70,178.00 L185.95,178.00 L186.20,178.01 L186.45,178.01 L186.70,178.01 L186.95,178.02 L187.20,178.02 L187.45,178.02 L187.70,178.02 L187.95,178.03 L188.20,178.03 L188.45,178.03 L188.70,178.03 L188.95,178.03 L189.20,178.04 L189.45,178.04 L189.70,178.04 L189.95,178.04 L190.20,178.04 L190.45,178.05 L190.70,178.05 L190.95,178.05 L191.20,178.05 L191.45,178.05 L191.70,178.05 L191.95,178.06 L192.20,178.06 L192.45,178.06 L192.70,178.06 L192.95,178.06 L193.20,178.06 L193.45,178.06 L193.70,178.07 L193.95,178.07 L194.20,178.07 L194.45,178.07 L194.70,178.07 L194.95,178.07 L195.20,178.07 L195.45,178.07 L195.70,178.08 L195.95,178.08 L196.20,178.08 L196.45,178.08 L196.70,178.08 L196.95,178.08 L197.20,178.08 L197.45,178.08 L197.70,178.08 L197.95,178.08 L198.20,178.08 L198.45,178.09 L198.70,178.09 L198.95,178.09 L199.20,178.09 L199.45,178.09 L199.70,178.09 L199.95,178.09 L200.00,178.09 L201.00,178.09 L202.00,178.10 L203.00,178.10 L204.00,178.10 L205.00,178.10 L206.00,178.10 L207.00,178.10 L208.00,178.10 L209.00,178.10 L210.00,178.11 L211.00,178.11 L212.00,178.11 L213.00,178.11 L214.00,178.11 L215.00,178.11 L216.00,178.11 L217.00,178.11 L218.00,178.11 L219.00,178.11 L220.00,178.11 L221.00,178.11 L222.00,178.11 L223.00,178.11 L224.00,178.11 L225.00,178.11 L226.00,178.11 L227.00,178.11 L228.00,178.11 L229.00,178.11 L230.00,178.11 L231.00,178.11 L232.00,178.11 L233.00,178.11 L234.00,178.11 L235.00,178.11 L236.00,178.11 L237.00,178.11 L238.00,178.11 L239.00,178.11 L240.00,178.11 L241.00,178.11 L242.00,178.10 L243.00,178.10 L244.00,178.10 L245.00,178.10 L246.00,178.10 L247.00,178.10 L248.00,178.10 L249.00,178.10 L250.00,178.10 L251.00,178.10 L252.00,178.10 L253.00,178.10 L254.00,178.10 L255.00,178.10 L256.00,178.10 L257.00,178.10 L258.00,178.10 L259.00,178.10 L260.00,178.10 L261.00,178.10 L262.00,178.10 L263.00,178.10 L264.00,178.10 L265.00,178.10 L266.00,178.10 L267.00,178.10 L268.00,178.10 L269.00,178.10 L270.00,178.10 L271.00,178.10 L272.00,178.10 L273.00,178.10 L274.00,178.10 L275.00,178.10 L276.00,178.10 L277.00,178.10 L278.00,178.10 L279.00,178.10 L280.00,178.10 L281.00,178.10 L282.00,178.10 L283.00,178.10 L284.00,178.10 L285.00,178.10 L286.00,178.10 L287.00,178.10 L288.00,178.10 L289.00,178.10 L290.00,178.10 L291.00,178.10 L292.00,178.10 L293.00,178.10 L294.00,178.10 L295.00,178.10 L296.00,178.10 L297.00,178.10 L298.00,178.10 L299.00,178.10 L300.00,178.10 L301.00,178.10 L302.00,178.10 L303.00,178.10 L304.00,178.10 L305.00,178.10 L306.00,178.10 L307.00,178.10 L308.00,178.10 L309.00,178.10 L310.00,178.10 L311.00,178.10 L312.00,178.10 L313.00,178.10 L314.00,178.10 L315.00,178.10 L316.00,178.10 L317.00,178.10 L318.00,178.10 L319.00,178.10 L320.00,178.10 L321.00,178.10 L322.00,178.10 L323.00,178.10 L324.00,178.10 L325.00,178.10 L326.00,178.10 L327.00,178.10 L328.00,178.10 L329.00,178.10 L330.00,178.10 L331.00,178.10 L332.00,178.10 L333.00,178.10 L334.00,178.10 L335.00,178.10 L336.00,178.10 L337.00,178.10 L338.00,178.10 L339.00,178.10 L340.00,178.10 L341.00,178.10 L342.00,178.10 L343.00,178.10 L344.00,178.10 L345.00,178.10 L346.00,178.10 L347.00,178.10 L348.00,178.10 L349.00,178.10 L350.00,178.10 L351.00,178.10 L352.00,178.10 L353.00,178.10 L354.00,178.10 L355.00,178.10 L356.00,178.10 L357.00,178.10 L358.00,178.10 L359.00,178.10 L360.00,178.10 L361.00,178.10 L362.00,178.10 L363.00,178.10 L364.00,178.10 L365.00,178.10 L366.00,178.10 L367.00,178.10 L368.00,178.10 L369.00,178.10 L370.00,178.10 L371.00,178.10 L372.00,178.10 L373.00,178.10 L374.00,178.10 L375.00,178.10 L376.00,178.10 L377.00,178.10 L378.00,178.10 L379.00,178.10 L380.00,178.10 L381.00,178.10 L382.00,178.10 L383.00,178.10 L384.00,178.10 L385.00,178.10 L386.00,178.10 L387.00,178.10 L388.00,178.10 L389.00,178.10 L390.00,178.10 L391.00,178.10 L392.00,178.10 L393.00,178.10 L394.00,178.10 L395.00,178.10 L396.00,178.10 L397.00,178.10 L398.00,178.10 L399.00,178.10 L400.00,178.10 L401.00,178.10 L402.00,178.10 L403.00,178.10 L404.00,178.10 L405.00,178.10 L406.00,178.10 L407.00,178.10 L408.00,178.10 L409.00,178.10 L410.00,178.10 L411.00,178.10 L412.00,178.10 L413.00,178.10 L414.00,178.10 L415.00,178.10 L416.00,178.10 L417.00,178.10 L418.00,178.10 L419.00,178.10 L420.00,178.10 L421.00,178.10 L422.00,178.10 L423.00,178.10 L424.00,178.10 L425.00,178.10 L426.00,178.10 L427.00,178.10 L427.90,178.10" stroke="#008b00" stroke-width="1.9" stroke-dasharray="1.6 4.0 7.9 4.0" stroke-dashoffset="17.30"/>
<path d="M44.95,269.00 L46.80,260.30 L46.80,260.30 L47.50,261.13 L47.75,260.48 L48.00,259.85 L48.25,259.22 L48.50,258.61 L48.75,258.01 L49.00,257.42 L49.25,256.83 L49.50,256.25 L49.75,255.68 L50.00,255.11 L50.25,254.55 L50.50,253.99 L50.75,253.43 L51.00,252.88 L51.25,252.32 L51.50,251.77 L51.75,251.22 L52.00,250.66 L52.25,250.11 L52.50,249.56 L52.75,249.00 L53.00,248.45 L53.25,247.89 L53.50,247.33 L53.75,246.77 L54.00,246.20 L54.25,245.64 L54.50,245.07 L54.75,244.49 L55.00,243.92 L55.25,243.34 L55.50,242.76 L55.75,242.18 L56.00,241.59 L56.25,241.00 L56.50,240.40 L56.75,239.81 L57.00,239.21 L57.25,238.60 L57.50,238.00 L57.75,237.39 L58.00,236.77 L58.25,236.16 L58.50,235.54 L58.75,234.92 L59.00,234.29 L59.25,233.66 L59.50,233.03 L59.75,232.40 L60.00,231.76 L60.25,231.13 L60.50,230.49 L60.75,229.84 L61.00,229.20 L61.25,228.55 L61.50,227.90 L61.75,227.25 L62.00,226.60 L62.25,225.95 L62.50,225.29 L62.75,224.64 L63.00,223.98 L63.25,223.32 L63.50,222.66 L63.75,222.00 L64.00,221.34 L64.25,220.68 L64.50,220.02 L64.75,219.36 L65.00,218.70 L65.25,218.04 L65.50,217.38 L65.75,216.72 L66.00,216.06 L66.25,215.40 L66.50,214.74 L66.75,214.09 L67.00,213.43 L67.25,212.77 L67.50,212.12 L67.75,211.47 L68.00,210.82 L68.25,210.17 L68.50,209.53 L68.75,208.88 L69.00,208.24 L69.25,207.60 L69.50,206.96 L69.75,206.33 L70.00,205.69 L70.25,205.07 L70.50,204.44 L70.75,203.82 L71.00,203.20 L71.25,202.58 L71.50,201.96 L71.75,201.35 L72.00,200.75 L72.25,200.14 L72.50,199.54 L72.75,198.95 L73.00,198.36 L73.25,197.77 L73.50,197.19 L73.75,196.61 L74.00,196.03 L74.25,195.46 L74.50,194.90 L74.75,194.34 L75.00,193.78 L75.25,193.23 L75.50,192.68 L75.75,192.14 L76.00,191.60 L76.25,191.07 L76.50,190.54 L76.75,190.02 L77.00,189.51 L77.25,188.99 L77.50,188.49 L77.75,187.99 L78.00,187.49 L78.25,187.00 L78.50,186.52 L78.75,186.04 L79.00,185.57 L79.25,185.10 L79.50,184.64 L79.75,184.18 L80.00,183.73 L80.25,183.29 L80.50,182.85 L80.75,182.41 L81.00,181.99 L81.25,181.57 L81.50,181.15 L81.75,180.74 L82.00,180.34 L82.25,179.94 L82.50,179.55 L82.75,179.16 L83.00,178.78 L83.25,178.41 L83.50,178.04 L83.75,177.68 L84.00,177.33 L84.25,176.98 L84.50,176.63 L84.75,176.30 L85.00,175.96 L85.25,175.64 L85.50,175.32 L85.75,175.00 L86.00,174.70 L86.25,174.39 L86.50,174.10 L86.75,173.81 L87.00,173.52 L87.25,173.24 L87.50,172.97 L87.75,172.70 L88.00,172.44 L88.25,172.19 L88.50,171.94 L88.75,171.69 L89.00,171.46 L89.25,171.22 L89.50,171.00 L89.75,170.77 L90.00,170.56 L90.25,170.35 L90.50,170.14 L90.75,169.94 L91.00,169.75 L91.25,169.56 L91.50,169.37 L91.75,169.20 L92.00,169.02 L92.25,168.85 L92.50,168.69 L92.75,168.53 L93.00,168.38 L93.25,168.23 L93.50,168.09 L93.75,167.95 L94.00,167.82 L94.25,167.69 L94.50,167.56 L94.75,167.44 L95.00,167.33 L95.25,167.22 L95.50,167.11 L95.75,167.01 L96.00,166.92 L96.25,166.82 L96.50,166.74 L96.75,166.65 L97.00,166.57 L97.25,166.50 L97.50,166.43 L97.75,166.36 L98.00,166.29 L98.25,166.24 L98.50,166.18 L98.75,166.13 L99.00,166.08 L99.25,166.04 L99.50,166.00 L99.75,165.96 L100.00,165.93 L100.25,165.90 L100.50,165.87 L100.75,165.85 L101.00,165.83 L101.25,165.81 L101.50,165.80 L101.75,165.79 L102.00,165.78 L102.25,165.78 L102.50,165.78 L102.75,165.78 L103.00,165.79 L103.25,165.79 L103.50,165.81 L103.75,165.82 L104.00,165.84 L104.25,165.85 L104.50,165.88 L104.75,165.90 L105.00,165.93 L105.25,165.95 L105.50,165.99 L105.75,166.02 L106.00,166.06 L106.25,166.09 L106.50,166.13 L106.75,166.18 L107.00,166.22 L107.25,166.27 L107.50,166.32 L107.75,166.37 L108.00,166.42 L108.25,166.47 L108.50,166.53 L108.75,166.59 L109.00,166.65 L109.25,166.71 L109.50,166.77 L109.75,166.83 L110.00,166.90 L110.25,166.97 L110.50,167.03 L110.75,167.10 L111.00,167.18 L111.25,167.25 L111.50,167.32 L111.75,167.40 L112.00,167.47 L112.25,167.55 L112.50,167.63 L112.75,167.71 L113.00,167.79 L113.25,167.87 L113.50,167.95 L113.75,168.03 L114.00,168.12 L114.25,168.20 L114.50,168.29 L114.75,168.38 L115.00,168.46 L115.25,168.55 L115.50,168.64 L115.75,168.73 L116.00,168.82 L116.25,168.91 L116.50,169.00 L116.75,169.09 L117.00,169.18 L117.25,169.27 L117.50,169.37 L117.75,169.46 L118.00,169.55 L118.25,169.64 L118.50,169.74 L118.75,169.83 L119.00,169.93 L119.25,170.02 L119.50,170.11 L119.75,170.21 L120.00,170.30 L120.25,170.40 L120.50,170.49 L120.75,170.59 L121.00,170.68 L121.25,170.78 L121.50,170.87 L121.75,170.97 L122.00,171.06 L122.25,171.16 L122.50,171.25 L122.75,171.35 L123.00,171.44 L123.25,171.54 L123.50,171.63 L123.75,171.73 L124.00,171.82 L124.25,171.91 L124.50,172.01 L124.75,172.10 L125.00,172.19 L125.25,172.28 L125.50,172.38 L125.75,172.47 L126.00,172.56 L126.25,172.65 L126.50,172.74 L126.75,172.83 L127.00,172.92 L127.25,173.01 L127.50,173.10 L127.75,173.19 L128.00,173.28 L128.25,173.36 L128.50,173.45 L128.75,173.54 L129.00,173.62 L129.25,173.71 L129.50,173.79 L129.75,173.88 L130.00,173.96 L130.25,174.05 L130.50,174.13 L130.75,174.21 L131.00,174.30 L131.25,174.38 L131.50,174.46 L131.75,174.54 L132.00,174.62 L132.25,174.70 L132.50,174.78 L132.75,174.85 L133.00,174.93 L133.25,175.01 L133.50,175.08 L133.75,175.16 L134.00,175.23 L134.25,175.31 L134.50,175.38 L134.75,175.45 L135.00,175.53 L135.25,175.60 L135.50,175.67 L135.75,175.74 L136.00,175.81 L136.25,175.88 L136.50,175.95 L136.75,176.02 L137.00,176.08 L137.25,176.15 L137.50,176.22 L137.75,176.28 L138.00,176.34 L138.25,176.41 L138.50,176.47 L138.75,176.53 L139.00,176.60 L139.25,176.66 L139.50,176.72 L139.75,176.78 L140.00,176.84 L140.25,176.90 L140.50,176.95 L140.75,177.01 L141.00,177.07 L141.25,177.12 L141.50,177.18 L141.75,177.23 L142.00,177.29 L142.25,177.34 L142.50,177.39 L142.75,177.45 L143.00,177.50 L143.25,177.55 L143.50,177.60 L143.75,177.65 L144.00,177.70 L144.25,177.74 L144.50,177.79 L144.75,177.84 L145.00,177.89 L145.25,177.93 L145.50,177.98 L145.75,178.02 L146.00,178.06 L146.25,178.11 L146.50,178.15 L146.75,178.19 L147.00,178.23 L147.25,178.27 L147.50,178.32 L147.75,178.35 L148.00,178.39 L148.25,178.43 L148.50,178.47 L148.75,178.51 L149.00,178.54 L149.25,178.58 L149.50,178.62 L149.75,178.65 L150.00,178.69 L150.25,178.72 L150.50,178.75 L150.75,178.79 L151.00,178.82 L151.25,178.85 L151.50,178.88 L151.75,178.91 L152.00,178.94 L152.25,178.97 L152.50,179.00 L152.75,179.03 L153.00,179.06 L153.25,179.09 L153.50,179.12 L153.75,179.14 L154.00,179.17 L154.25,179.20 L154.50,179.22 L154.75,179.25 L155.00,179.27 L155.25,179.29 L155.50,179.32 L155.75,179.34 L156.00,179.36 L156.25,179.39 L156.50,179.41 L156.75,179.43 L157.00,179.45 L157.25,179.47 L157.50,179.49 L157.75,179.51 L158.00,179.53 L158.25,179.55 L158.50,179.57 L158.75,179.59 L159.00,179.60 L159.25,179.62 L159.50,179.64 L159.75,179.66 L160.00,179.67 L160.25,179.69 L160.50,179.70 L160.75,179.72 L161.00,179.73 L161.25,179.75 L161.50,179.76 L161.75,179.78 L162.00,179.79 L162.25,179.80 L162.50,179.82 L162.75,179.83 L163.00,179.84 L163.25,179.85 L163.50,179.86 L163.75,179.88 L164.00,179.89 L164.25,179.90 L164.50,179.91 L164.75,179.92 L165.00,179.93 L165.25,179.94 L165.50,179.95 L165.75,179.96 L166.00,179.96 L166.25,179.97 L166.50,179.98 L166.75,179.99 L167.00,180.00 L167.25,180.00 L167.50,180.01 L167.75,180.02 L168.00,180.02 L168.25,180.03 L168.50,180.04 L168.75,180.04 L169.00,180.05 L169.25,180.05 L169.50,180.06 L169.75,180.07 L170.00,180.07 L170.25,180.07 L170.50,180.08 L170.75,180.08 L171.00,180.09 L171.25,180.09 L171.50,180.10 L171.75,180.10 L172.00,180.10 L172.25,180.11 L172.50,180.11 L172.75,180.11 L173.00,180.11 L173.25,180.12 L173.50,180.12 L173.75,180.12 L174.00,180.12 L174.25,180.12 L174.50,180.13 L174.75,180.13 L175.00,180.13 L175.25,180.13 L175.50,180.13 L175.75,180.13 L176.00,180.13 L176.25,180.13 L176.50,180.13 L176.75,180.14 L177.00,180.14 L177.25,180.14 L177.50,180.14 L177.75,180.14 L178.00,180.14 L178.25,180.13 L178.50,180.13 L178.75,180.13 L179.00,180.13 L179.25,180.13 L179.50,180.13 L179.75,180.13 L180.00,180.13 L180.25,180.13 L180.50,180.13 L180.75,180.13 L181.00,180.12 L181.25,180.12 L181.50,180.12 L181.75,180.12 L182.00,180.12 L182.25,180.11 L182.50,180.11 L182.75,180.11 L183.00,180.11 L183.25,180.11 L183.50,180.10 L183.75,180.10 L184.00,180.10 L184.25,180.10 L184.50,180.09 L184.75,180.09 L185.00,180.09 L185.25,180.09 L185.50,180.08 L185.75,180.08 L186.00,180.08 L186.25,180.07 L186.50,180.07 L186.75,180.07 L187.00,180.06 L187.25,180.06 L187.50,180.06 L187.75,180.05 L188.00,180.05 L188.25,180.05 L188.50,180.04 L188.75,180.04 L189.00,180.04 L189.25,180.03 L189.50,180.03 L189.75,180.03 L190.00,180.02 L190.25,180.02 L190.50,180.01 L190.75,180.01 L191.00,180.01 L191.25,180.00 L191.50,180.00 L191.75,179.99 L192.00,179.99 L192.25,179.99 L192.50,179.98 L192.75,179.98 L193.00,179.97 L193.25,179.97 L193.50,179.97 L193.75,179.96 L194.00,179.96 L194.25,179.95 L194.50,179.95 L194.75,179.94 L195.00,179.94 L195.25,179.93 L195.50,179.93 L195.75,179.93 L196.00,179.92 L196.25,179.92 L196.50,179.91 L196.75,179.91 L197.00,179.90 L197.25,179.90 L197.50,179.89 L197.75,179.89 L198.00,179.89 L198.25,179.88 L198.50,179.88 L198.75,179.87 L199.00,179.87 L199.25,179.86 L199.50,179.86 L199.75,179.85 L200.00,179.85 L201.00,179.83 L202.00,179.81 L203.00,179.79 L204.00,179.77 L205.00,179.75 L206.00,179.74 L207.00,179.72 L208.00,179.70 L209.00,179.68 L210.00,179.66 L211.00,179.64 L212.00,179.62 L213.00,179.60 L214.00,179.58 L215.00,179.57 L216.00,179.55 L217.00,179.53 L218.00,179.51 L219.00,179.49 L220.00,179.47 L221.00,179.46 L222.00,179.44 L223.00,179.42 L224.00,179.40 L225.00,179.39 L226.00,179.37 L227.00,179.35 L228.00,179.34 L229.00,179.32 L230.00,179.30 L231.00,179.29 L232.00,179.27 L233.00,179.25 L234.00,179.24 L235.00,179.22 L236.00,179.20 L237.00,179.19 L238.00,179.17 L239.00,179.16 L240.00,179.14 L241.00,179.13 L242.00,179.11 L243.00,179.10 L244.00,179.08 L245.00,179.07 L246.00,179.05 L247.00,179.04 L248.00,179.02 L249.00,179.01 L250.00,179.00 L251.00,178.98 L252.00,178.97 L253.00,178.95 L254.00,178.94 L255.00,178.93 L256.00,178.91 L257.00,178.90 L258.00,178.89 L259.00,178.87 L260.00,178.86 L261.00,178.85 L262.00,178.84 L263.00,178.82 L264.00,178.81 L265.00,178.80 L266.00,178.79 L267.00,178.78 L268.00,178.77 L269.00,178.75 L270.00,178.74 L271.00,178.73 L272.00,178.72 L273.00,178.71 L274.00,178.70 L275.00,178.69 L276.00,178.68 L277.00,178.67 L278.00,178.66 L279.00,178.65 L280.00,178.64 L281.00,178.63 L282.00,178.62 L283.00,178.61 L284.00,178.60 L285.00,178.59 L286.00,178.58 L287.00,178.57 L288.00,178.56 L289.00,178.56 L290.00,178.55 L291.00,178.54 L292.00,178.53 L293.00,178.52 L294.00,178.52 L295.00,178.51 L296.00,178.50 L297.00,178.49 L298.00,178.49 L299.00,178.48 L300.00,178.47 L301.00,178.47 L302.00,178.46 L303.00,178.45 L304.00,178.45 L305.00,178.44 L306.00,178.43 L307.00,178.43 L308.00,178.42 L309.00,178.42 L310.00,178.41 L311.00,178.40 L312.00,178.40 L313.00,178.39 L314.00,178.39 L315.00,178.38 L316.00,178.38 L317.00,178.37 L318.00,178.37 L319.00,178.36 L320.00,178.36 L321.00,178.36 L322.00,178.35 L323.00,178.35 L324.00,178.34 L325.00,178.34 L326.00,178.33 L327.00,178.33 L328.00,178.33 L329.00,178.32 L330.00,178.32 L331.00,178.32 L332.00,178.31 L333.00,178.31 L334.00,178.31 L335.00,178.30 L336.00,178.30 L337.00,178.30 L338.00,178.29 L339.00,178.29 L340.00,178.29 L341.00,178.29 L342.00,178.28 L343.00,178.28 L344.00,178.28 L345.00,178.28 L346.00,178.27 L347.00,178.27 L348.00,178.27 L349.00,178.27 L350.00,178.27 L351.00,178.26 L352.00,178.26 L353.00,178.26 L354.00,178.26 L355.00,178.26 L356.00,178.25 L357.00,178.25 L358.00,178.25 L359.00,178.25 L360.00,178.25 L361.00,178.25 L362.00,178.24 L363.00,178.24 L364.00,178.24 L365.00,178.24 L366.00,178.24 L367.00,178.24 L368.00,178.24 L369.00,178.24 L370.00,178.23 L371.00,178.23 L372.00,178.23 L373.00,178.23 L374.00,178.23 L375.00,178.23 L376.00,178.23 L377.00,178.23 L378.00,178.23 L379.00,178.22 L380.00,178.22 L381.00,178.22 L382.00,178.22 L383.00,178.22 L384.00,178.22 L385.00,178.22 L386.00,178.22 L387.00,178.22 L388.00,178.22 L389.00,178.22 L390.00,178.22 L391.00,178.22 L392.00,178.22 L393.00,178.22 L394.00,178.21 L395.00,178.21 L396.00,178.21 L397.00,178.21 L398.00,178.21 L399.00,178.21 L400.00,178.21 L401.00,178.21 L402.00,178.21 L403.00,178.21 L404.00,178.21 L405.00,178.21 L406.00,178.21 L407.00,178.21 L408.00,178.21 L409.00,178.21 L410.00,178.21 L411.00,178.21 L412.00,178.21 L413.00,178.21 L414.00,178.21 L415.00,178.21 L416.00,178.21 L417.00,178.21 L418.00,178.21 L419.00,178.21 L420.00,178.21 L421.00,178.21 L422.00,178.21 L423.00,178.21 L424.00,178.20 L425.00,178.20 L426.00,178.20 L427.00,178.20 L427.90,178.20" stroke="#0000ff" stroke-width="2.3" stroke-dasharray="2.3 5.75" stroke-dashoffset="5.16"/>
<path d="M44.95,269.00 L47.30,257.50 L48.70,258.40 L48.70,258.40 L50.45,259.60 L51.30,259.70 L51.55,259.23 L51.80,258.74 L52.05,258.25 L52.30,257.76 L52.55,257.26 L52.80,256.76 L53.05,256.25 L53.30,255.74 L53.55,255.22 L53.80,254.70 L54.05,254.18 L54.30,253.66 L54.55,253.14 L54.80,252.61 L55.05,252.08 L55.30,251.55 L55.55,251.02 L55.80,250.49 L56.05,249.96 L56.30,249.43 L56.55,248.90 L56.80,248.36 L57.05,247.83 L57.30,247.30 L57.55,246.77 L57.80,246.24 L58.05,245.71 L58.30,245.18 L58.55,244.65 L58.80,244.12 L59.05,243.60 L59.30,243.07 L59.55,242.55 L59.80,242.02 L60.05,241.50 L60.30,240.98 L60.55,240.46 L60.80,239.94 L61.05,239.42 L61.30,238.90 L61.55,238.38 L61.80,237.87 L62.05,237.35 L62.30,236.84 L62.55,236.32 L62.80,235.81 L63.05,235.30 L63.30,234.79 L63.55,234.28 L63.80,233.77 L64.05,233.26 L64.30,232.75 L64.55,232.24 L64.80,231.74 L65.05,231.23 L65.30,230.72 L65.55,230.22 L65.80,229.71 L66.05,229.21 L66.30,228.71 L66.55,228.20 L66.80,227.70 L67.05,227.19 L67.30,226.69 L67.55,226.19 L67.80,225.69 L68.05,225.19 L68.30,224.68 L68.55,224.18 L68.80,223.68 L69.05,223.18 L69.30,222.68 L69.55,222.18 L69.80,221.68 L70.05,221.18 L70.30,220.68 L70.55,220.18 L70.80,219.69 L71.05,219.19 L71.30,218.69 L71.55,218.20 L71.80,217.70 L72.05,217.21 L72.30,216.71 L72.55,216.22 L72.80,215.73 L73.05,215.23 L73.30,214.74 L73.55,214.25 L73.80,213.77 L74.05,213.28 L74.30,212.79 L74.55,212.31 L74.80,211.82 L75.05,211.34 L75.30,210.86 L75.55,210.38 L75.80,209.90 L76.05,209.42 L76.30,208.95 L76.55,208.48 L76.80,208.00 L77.05,207.53 L77.30,207.07 L77.55,206.60 L77.80,206.14 L78.05,205.68 L78.30,205.22 L78.55,204.76 L78.80,204.31 L79.05,203.86 L79.30,203.41 L79.55,202.96 L79.80,202.52 L80.05,202.08 L80.30,201.64 L80.55,201.20 L80.80,200.77 L81.05,200.34 L81.30,199.92 L81.55,199.50 L81.80,199.08 L82.05,198.66 L82.30,198.25 L82.55,197.84 L82.80,197.43 L83.05,197.03 L83.30,196.63 L83.55,196.24 L83.80,195.84 L84.05,195.46 L84.30,195.07 L84.55,194.69 L84.80,194.32 L85.05,193.94 L85.30,193.58 L85.55,193.21 L85.80,192.85 L86.05,192.50 L86.30,192.14 L86.55,191.80 L86.80,191.45 L87.05,191.11 L87.30,190.78 L87.55,190.45 L87.80,190.12 L88.05,189.80 L88.30,189.48 L88.55,189.17 L88.80,188.86 L89.05,188.55 L89.30,188.25 L89.55,187.96 L89.80,187.67 L90.05,187.38 L90.30,187.10 L90.55,186.82 L90.80,186.55 L91.05,186.28 L91.30,186.01 L91.55,185.75 L91.80,185.50 L92.05,185.25 L92.30,185.00 L92.55,184.76 L92.80,184.52 L93.05,184.29 L93.30,184.06 L93.55,183.83 L93.80,183.61 L94.05,183.40 L94.30,183.19 L94.55,182.98 L94.80,182.78 L95.05,182.58 L95.30,182.38 L95.55,182.19 L95.80,182.01 L96.05,181.83 L96.30,181.65 L96.55,181.48 L96.80,181.31 L97.05,181.14 L97.30,180.98 L97.55,180.82 L97.80,180.67 L98.05,180.52 L98.30,180.38 L98.55,180.24 L98.80,180.10 L99.05,179.97 L99.30,179.84 L99.55,179.71 L99.80,179.59 L100.05,179.47 L100.30,179.35 L100.55,179.24 L100.80,179.13 L101.05,179.03 L101.30,178.93 L101.55,178.83 L101.80,178.74 L102.05,178.65 L102.30,178.56 L102.55,178.47 L102.80,178.39 L103.05,178.31 L103.30,178.24 L103.55,178.17 L103.80,178.10 L104.05,178.03 L104.30,177.97 L104.55,177.91 L104.80,177.85 L105.05,177.80 L105.30,177.75 L105.55,177.70 L105.80,177.65 L106.05,177.61 L106.30,177.56 L106.55,177.53 L106.80,177.49 L107.05,177.46 L107.30,177.42 L107.55,177.39 L107.80,177.37 L108.05,177.34 L108.30,177.32 L108.55,177.30 L108.80,177.28 L109.05,177.26 L109.30,177.25 L109.55,177.24 L109.80,177.23 L110.05,177.22 L110.30,177.21 L110.55,177.21 L110.80,177.20 L111.05,177.20 L111.30,177.20 L111.55,177.20 L111.80,177.21 L112.05,177.21 L112.30,177.22 L112.55,177.23 L112.80,177.24 L113.05,177.25 L113.30,177.26 L113.55,177.27 L113.80,177.29 L114.05,177.30 L114.30,177.32 L114.55,177.34 L114.80,177.36 L115.05,177.38 L115.30,177.40 L115.55,177.42 L115.80,177.45 L116.05,177.47 L116.30,177.50 L116.55,177.52 L116.80,177.55 L117.05,177.58 L117.30,177.61 L117.55,177.64 L117.80,177.67 L118.05,177.70 L118.30,177.73 L118.55,177.76 L118.80,177.80 L119.05,177.83 L119.30,177.86 L119.55,177.90 L119.80,177.93 L120.05,177.97 L120.30,178.01 L120.55,178.04 L120.80,178.08 L121.05,178.12 L121.30,178.15 L121.55,178.19 L121.80,178.23 L122.05,178.27 L122.30,178.31 L122.55,178.35 L122.80,178.39 L123.05,178.43 L123.30,178.47 L123.55,178.51 L123.80,178.55 L124.05,178.59 L124.30,178.63 L124.55,178.67 L124.80,178.71 L125.05,178.75 L125.30,178.79 L125.55,178.83 L125.80,178.87 L126.05,178.92 L126.30,178.96 L126.55,179.00 L126.80,179.04 L127.05,179.08 L127.30,179.12 L127.55,179.16 L127.80,179.20 L128.05,179.24 L128.30,179.28 L128.55,179.32 L128.80,179.36 L129.05,179.40 L129.30,179.44 L129.55,179.48 L129.80,179.52 L130.05,179.56 L130.30,179.60 L130.55,179.64 L130.80,179.68 L131.05,179.72 L131.30,179.75 L131.55,179.79 L131.80,179.83 L132.05,179.87 L132.30,179.91 L132.55,179.94 L132.80,179.98 L133.05,180.02 L133.30,180.05 L133.55,180.09 L133.80,180.12 L134.05,180.16 L134.30,180.19 L134.55,180.23 L134.80,180.26 L135.05,180.30 L135.30,180.33 L135.55,180.36 L135.80,180.40 L136.05,180.43 L136.30,180.46 L136.55,180.50 L136.80,180.53 L137.05,180.56 L137.30,180.59 L137.55,180.62 L137.80,180.65 L138.05,180.68 L138.30,180.71 L138.55,180.74 L138.80,180.77 L139.05,180.80 L139.30,180.83 L139.55,180.86 L139.80,180.88 L140.05,180.91 L140.30,180.94 L140.55,180.97 L140.80,180.99 L141.05,181.02 L141.30,181.04 L141.55,181.07 L141.80,181.09 L142.05,181.12 L142.30,181.14 L142.55,181.17 L142.80,181.19 L143.05,181.21 L143.30,181.24 L143.55,181.26 L143.80,181.28 L144.05,181.30 L144.30,181.33 L144.55,181.35 L144.80,181.37 L145.05,181.39 L145.30,181.41 L145.55,181.43 L145.80,181.45 L146.05,181.47 L146.30,181.49 L146.55,181.51 L146.80,181.52 L147.05,181.54 L147.30,181.56 L147.55,181.58 L147.80,181.60 L148.05,181.61 L148.30,181.63 L148.55,181.64 L148.80,181.66 L149.05,181.68 L149.30,181.69 L149.55,181.71 L149.80,181.72 L150.05,181.74 L150.30,181.75 L150.55,181.76 L150.80,181.78 L151.05,181.79 L151.30,181.80 L151.55,181.82 L151.80,181.83 L152.05,181.84 L152.30,181.85 L152.55,181.86 L152.80,181.88 L153.05,181.89 L153.30,181.90 L153.55,181.91 L153.80,181.92 L154.05,181.93 L154.30,181.94 L154.55,181.95 L154.80,181.96 L155.05,181.97 L155.30,181.98 L155.55,181.99 L155.80,181.99 L156.05,182.00 L156.30,182.01 L156.55,182.02 L156.80,182.03 L157.05,182.03 L157.30,182.04 L157.55,182.05 L157.80,182.05 L158.05,182.06 L158.30,182.07 L158.55,182.07 L158.80,182.08 L159.05,182.08 L159.30,182.09 L159.55,182.10 L159.80,182.10 L160.05,182.11 L160.30,182.11 L160.55,182.12 L160.80,182.12 L161.05,182.12 L161.30,182.13 L161.55,182.13 L161.80,182.14 L162.05,182.14 L162.30,182.14 L162.55,182.15 L162.80,182.15 L163.05,182.15 L163.30,182.15 L163.55,182.16 L163.80,182.16 L164.05,182.16 L164.30,182.16 L164.55,182.17 L164.80,182.17 L165.05,182.17 L165.30,182.17 L165.55,182.17 L165.80,182.17 L166.05,182.18 L166.30,182.18 L166.55,182.18 L166.80,182.18 L167.05,182.18 L167.30,182.18 L167.55,182.18 L167.80,182.18 L168.05,182.18 L168.30,182.18 L168.55,182.18 L168.80,182.18 L169.05,182.18 L169.30,182.18 L169.55,182.18 L169.80,182.18 L170.05,182.18 L170.30,182.18 L170.55,182.18 L170.80,182.18 L171.05,182.17 L171.30,182.17 L171.55,182.17 L171.80,182.17 L172.05,182.17 L172.30,182.17 L172.55,182.17 L172.80,182.16 L173.05,182.16 L173.30,182.16 L173.55,182.16 L173.80,182.16 L174.05,182.15 L174.30,182.15 L174.55,182.15 L174.80,182.15 L175.05,182.15 L175.30,182.14 L175.55,182.14 L175.80,182.14 L176.05,182.13 L176.30,182.13 L176.55,182.13 L176.80,182.13 L177.05,182.12 L177.30,182.12 L177.55,182.12 L177.80,182.11 L178.05,182.11 L178.30,182.11 L178.55,182.10 L178.80,182.10 L179.05,182.10 L179.30,182.09 L179.55,182.09 L179.80,182.08 L180.05,182.08 L180.30,182.08 L180.55,182.07 L180.80,182.07 L181.05,182.07 L181.30,182.06 L181.55,182.06 L181.80,182.05 L182.05,182.05 L182.30,182.04 L182.55,182.04 L182.80,182.04 L183.05,182.03 L183.30,182.03 L183.55,182.02 L183.80,182.02 L184.05,182.01 L184.30,182.01 L184.55,182.00 L184.80,182.00 L185.05,181.99 L185.30,181.99 L185.55,181.98 L185.80,181.98 L186.05,181.97 L186.30,181.97 L186.55,181.96 L186.80,181.96 L187.05,181.95 L187.30,181.95 L187.55,181.94 L187.80,181.94 L188.05,181.93 L188.30,181.93 L188.55,181.92 L188.80,181.92 L189.05,181.91 L189.30,181.91 L189.55,181.90 L189.80,181.90 L190.05,181.89 L190.30,181.89 L190.55,181.88 L190.80,181.87 L191.05,181.87 L191.30,181.86 L191.55,181.86 L191.80,181.85 L192.05,181.85 L192.30,181.84 L192.55,181.83 L192.80,181.83 L193.05,181.82 L193.30,181.82 L193.55,181.81 L193.80,181.81 L194.05,181.80 L194.30,181.79 L194.55,181.79 L194.80,181.78 L195.05,181.78 L195.30,181.77 L195.55,181.76 L195.80,181.76 L196.05,181.75 L196.30,181.75 L196.55,181.74 L196.80,181.73 L197.05,181.73 L197.30,181.72 L197.55,181.71 L197.80,181.71 L198.05,181.70 L198.30,181.70 L198.55,181.69 L198.80,181.68 L199.05,181.68 L199.30,181.67 L199.55,181.66 L199.80,181.66 L200.00,181.65 L201.00,181.63 L202.00,181.60 L203.00,181.58 L204.00,181.55 L205.00,181.52 L206.00,181.50 L207.00,181.47 L208.00,181.44 L209.00,181.41 L210.00,181.39 L211.00,181.36 L212.00,181.33 L213.00,181.31 L214.00,181.28 L215.00,181.25 L216.00,181.22 L217.00,181.20 L218.00,181.17 L219.00,181.14 L220.00,181.11 L221.00,181.09 L222.00,181.06 L223.00,181.03 L224.00,181.00 L225.00,180.98 L226.00,180.95 L227.00,180.92 L228.00,180.89 L229.00,180.87 L230.00,180.84 L231.00,180.81 L232.00,180.79 L233.00,180.76 L234.00,180.74 L235.00,180.71 L236.00,180.68 L237.00,180.66 L238.00,180.63 L239.00,180.61 L240.00,180.58 L241.00,180.56 L242.00,180.53 L243.00,180.51 L244.00,180.48 L245.00,180.46 L246.00,180.43 L247.00,180.41 L248.00,180.39 L249.00,180.36 L250.00,180.34 L251.00,180.32 L252.00,180.30 L253.00,180.27 L254.00,180.25 L255.00,180.23 L256.00,180.21 L257.00,180.19 L258.00,180.16 L259.00,180.14 L260.00,180.12 L261.00,180.10 L262.00,180.08 L263.00,180.06 L264.00,180.04 L265.00,180.02 L266.00,180.00 L267.00,179.99 L268.00,179.97 L269.00,179.95 L270.00,179.93 L271.00,179.91 L272.00,179.89 L273.00,179.88 L274.00,179.86 L275.00,179.84 L276.00,179.83 L277.00,179.81 L278.00,179.79 L279.00,179.78 L280.00,179.76 L281.00,179.75 L282.00,179.73 L283.00,179.72 L284.00,179.70 L285.00,179.69 L286.00,179.67 L287.00,179.66 L288.00,179.65 L289.00,179.63 L290.00,179.62 L291.00,179.61 L292.00,179.59 L293.00,179.58 L294.00,179.57 L295.00,179.56 L296.00,179.54 L297.00,179.53 L298.00,179.52 L299.00,179.51 L300.00,179.50 L301.00,179.49 L302.00,179.47 L303.00,179.46 L304.00,179.45 L305.00,179.44 L306.00,179.43 L307.00,179.42 L308.00,179.41 L309.00,179.40 L310.00,179.39 L311.00,179.38 L312.00,179.38 L313.00,179.37 L314.00,179.36 L315.00,179.35 L316.00,179.34 L317.00,179.33 L318.00,179.32 L319.00,179.32 L320.00,179.31 L321.00,179.30 L322.00,179.29 L323.00,179.29 L324.00,179.28 L325.00,179.27 L326.00,179.26 L327.00,179.26 L328.00,179.25 L329.00,179.24 L330.00,179.24 L331.00,179.23 L332.00,179.22 L333.00,179.22 L334.00,179.21 L335.00,179.21 L336.00,179.20 L337.00,179.19 L338.00,179.19 L339.00,179.18 L340.00,179.18 L341.00,179.17 L342.00,179.17 L343.00,179.16 L344.00,179.16 L345.00,179.15 L346.00,179.15 L347.00,179.14 L348.00,179.14 L349.00,179.13 L350.00,179.13 L351.00,179.12 L352.00,179.12 L353.00,179.12 L354.00,179.11 L355.00,179.11 L356.00,179.10 L357.00,179.10 L358.00,179.10 L359.00,179.09 L360.00,179.09 L361.00,179.08 L362.00,179.08 L363.00,179.08 L364.00,179.07 L365.00,179.07 L366.00,179.07 L367.00,179.06 L368.00,179.06 L369.00,179.06 L370.00,179.05 L371.00,179.05 L372.00,179.05 L373.00,179.05 L374.00,179.04 L375.00,179.04 L376.00,179.04 L377.00,179.03 L378.00,179.03 L379.00,179.03 L380.00,179.03 L381.00,179.02 L382.00,179.02 L383.00,179.02 L384.00,179.02 L385.00,179.02 L386.00,179.01 L387.00,179.01 L388.00,179.01 L389.00,179.01 L390.00,179.00 L391.00,179.00 L392.00,179.00 L393.00,179.00 L394.00,179.00 L395.00,178.99 L396.00,178.99 L397.00,178.99 L398.00,178.99 L399.00,178.99 L400.00,178.99 L401.00,178.98 L402.00,178.98 L403.00,178.98 L404.00,178.98 L405.00,178.98 L406.00,178.98 L407.00,178.98 L408.00,178.97 L409.00,178.97 L410.00,178.97 L411.00,178.97 L412.00,178.97 L413.00,178.97 L414.00,178.97 L415.00,178.96 L416.00,178.96 L417.00,178.96 L418.00,178.96 L419.00,178.96 L420.00,178.96 L421.00,178.96 L422.00,178.96 L423.00,178.95 L424.00,178.95 L425.00,178.95 L426.00,178.95 L427.00,178.95 L427.90,178.95" stroke="#ff00ff" stroke-width="1.4"/>
<path d="M44.95,269.00 L47.30,257.20 L49.00,258.60 L49.00,258.60 L51.00,260.10 L52.00,258.20 L52.25,257.84 L52.50,257.49 L52.75,257.13 L53.00,256.77 L53.25,256.41 L53.50,256.05 L53.75,255.69 L54.00,255.32 L54.25,254.95 L54.50,254.58 L54.75,254.20 L55.00,253.83 L55.25,253.45 L55.50,253.07 L55.75,252.69 L56.00,252.30 L56.25,251.92 L56.50,251.53 L56.75,251.14 L57.00,250.75 L57.25,250.35 L57.50,249.95 L57.75,249.56 L58.00,249.16 L58.25,248.76 L58.50,248.35 L58.75,247.95 L59.00,247.54 L59.25,247.14 L59.50,246.73 L59.75,246.32 L60.00,245.91 L60.25,245.49 L60.50,245.08 L60.75,244.66 L61.00,244.25 L61.25,243.83 L61.50,243.41 L61.75,242.99 L62.00,242.58 L62.25,242.15 L62.50,241.73 L62.75,241.31 L63.00,240.89 L63.25,240.47 L63.50,240.04 L63.75,239.62 L64.00,239.19 L64.25,238.77 L64.50,238.34 L64.75,237.92 L65.00,237.49 L65.25,237.06 L65.50,236.64 L65.75,236.21 L66.00,235.78 L66.25,235.36 L66.50,234.93 L66.75,234.50 L67.00,234.08 L67.25,233.65 L67.50,233.22 L67.75,232.80 L68.00,232.37 L68.25,231.95 L68.50,231.52 L68.75,231.09 L69.00,230.67 L69.25,230.24 L69.50,229.82 L69.75,229.40 L70.00,228.97 L70.25,228.55 L70.50,228.13 L70.75,227.71 L71.00,227.29 L71.25,226.87 L71.50,226.45 L71.75,226.03 L72.00,225.61 L72.25,225.20 L72.50,224.78 L72.75,224.37 L73.00,223.95 L73.25,223.54 L73.50,223.13 L73.75,222.72 L74.00,222.31 L74.25,221.90 L74.50,221.50 L74.75,221.09 L75.00,220.69 L75.25,220.28 L75.50,219.88 L75.75,219.48 L76.00,219.08 L76.25,218.69 L76.50,218.29 L76.75,217.90 L77.00,217.50 L77.25,217.11 L77.50,216.72 L77.75,216.34 L78.00,215.95 L78.25,215.57 L78.50,215.18 L78.75,214.80 L79.00,214.43 L79.25,214.05 L79.50,213.67 L79.75,213.30 L80.00,212.93 L80.25,212.56 L80.50,212.20 L80.75,211.83 L81.00,211.47 L81.25,211.11 L81.50,210.75 L81.75,210.39 L82.00,210.04 L82.25,209.69 L82.50,209.34 L82.75,208.99 L83.00,208.65 L83.25,208.31 L83.50,207.97 L83.75,207.63 L84.00,207.30 L84.25,206.96 L84.50,206.63 L84.75,206.31 L85.00,205.98 L85.25,205.66 L85.50,205.34 L85.75,205.02 L86.00,204.71 L86.25,204.39 L86.50,204.09 L86.75,203.78 L87.00,203.47 L87.25,203.17 L87.50,202.87 L87.75,202.58 L88.00,202.29 L88.25,201.99 L88.50,201.71 L88.75,201.42 L89.00,201.14 L89.25,200.86 L89.50,200.58 L89.75,200.31 L90.00,200.04 L90.25,199.77 L90.50,199.50 L90.75,199.24 L91.00,198.98 L91.25,198.72 L91.50,198.47 L91.75,198.22 L92.00,197.97 L92.25,197.73 L92.50,197.48 L92.75,197.24 L93.00,197.01 L93.25,196.77 L93.50,196.54 L93.75,196.31 L94.00,196.09 L94.25,195.86 L94.50,195.64 L94.75,195.43 L95.00,195.21 L95.25,195.00 L95.50,194.79 L95.75,194.58 L96.00,194.38 L96.25,194.18 L96.50,193.98 L96.75,193.79 L97.00,193.60 L97.25,193.41 L97.50,193.22 L97.75,193.04 L98.00,192.85 L98.25,192.68 L98.50,192.50 L98.75,192.33 L99.00,192.16 L99.25,191.99 L99.50,191.82 L99.75,191.66 L100.00,191.50 L100.25,191.34 L100.50,191.19 L100.75,191.04 L101.00,190.89 L101.25,190.74 L101.50,190.60 L101.75,190.45 L102.00,190.31 L102.25,190.18 L102.50,190.04 L102.75,189.91 L103.00,189.78 L103.25,189.65 L103.50,189.53 L103.75,189.41 L104.00,189.29 L104.25,189.17 L104.50,189.05 L104.75,188.94 L105.00,188.83 L105.25,188.72 L105.50,188.61 L105.75,188.51 L106.00,188.40 L106.25,188.30 L106.50,188.21 L106.75,188.11 L107.00,188.02 L107.25,187.92 L107.50,187.83 L107.75,187.75 L108.00,187.66 L108.25,187.58 L108.50,187.49 L108.75,187.41 L109.00,187.33 L109.25,187.26 L109.50,187.18 L109.75,187.11 L110.00,187.04 L110.25,186.97 L110.50,186.90 L110.75,186.84 L111.00,186.77 L111.25,186.71 L111.50,186.65 L111.75,186.59 L112.00,186.53 L112.25,186.48 L112.50,186.42 L112.75,186.37 L113.00,186.32 L113.25,186.27 L113.50,186.22 L113.75,186.18 L114.00,186.13 L114.25,186.09 L114.50,186.04 L114.75,186.00 L115.00,185.96 L115.25,185.92 L115.50,185.89 L115.75,185.85 L116.00,185.82 L116.25,185.78 L116.50,185.75 L116.75,185.72 L117.00,185.69 L117.25,185.66 L117.50,185.63 L117.75,185.60 L118.00,185.58 L118.25,185.55 L118.50,185.53 L118.75,185.51 L119.00,185.49 L119.25,185.47 L119.50,185.45 L119.75,185.43 L120.00,185.41 L120.25,185.39 L120.50,185.38 L120.75,185.36 L121.00,185.35 L121.25,185.33 L121.50,185.32 L121.75,185.31 L122.00,185.30 L122.25,185.29 L122.50,185.28 L122.75,185.27 L123.00,185.26 L123.25,185.25 L123.50,185.24 L123.75,185.24 L124.00,185.23 L124.25,185.22 L124.50,185.22 L124.75,185.21 L125.00,185.21 L125.25,185.21 L125.50,185.20 L125.75,185.20 L126.00,185.20 L126.25,185.20 L126.50,185.20 L126.75,185.20 L127.00,185.20 L127.25,185.20 L127.50,185.20 L127.75,185.20 L128.00,185.20 L128.25,185.20 L128.50,185.20 L128.75,185.21 L129.00,185.21 L129.25,185.21 L129.50,185.21 L129.75,185.22 L130.00,185.22 L130.25,185.22 L130.50,185.23 L130.75,185.23 L131.00,185.24 L131.25,185.24 L131.50,185.25 L131.75,185.25 L132.00,185.26 L132.25,185.26 L132.50,185.27 L132.75,185.27 L133.00,185.28 L133.25,185.28 L133.50,185.29 L133.75,185.30 L134.00,185.30 L134.25,185.31 L134.50,185.31 L134.75,185.32 L135.00,185.33 L135.25,185.33 L135.50,185.34 L135.75,185.34 L136.00,185.35 L136.25,185.36 L136.50,185.36 L136.75,185.37 L137.00,185.38 L137.25,185.38 L137.50,185.39 L137.75,185.39 L138.00,185.40 L138.25,185.41 L138.50,185.41 L138.75,185.42 L139.00,185.42 L139.25,185.43 L139.50,185.44 L139.75,185.44 L140.00,185.45 L140.25,185.45 L140.50,185.46 L140.75,185.46 L141.00,185.47 L141.25,185.47 L141.50,185.48 L141.75,185.48 L142.00,185.49 L142.25,185.49 L142.50,185.50 L142.75,185.50 L143.00,185.50 L143.25,185.51 L143.50,185.51 L143.75,185.51 L144.00,185.52 L144.25,185.52 L144.50,185.52 L144.75,185.53 L145.00,185.53 L145.25,185.53 L145.50,185.54 L145.75,185.54 L146.00,185.54 L146.25,185.54 L146.50,185.54 L146.75,185.54 L147.00,185.55 L147.25,185.55 L147.50,185.55 L147.75,185.55 L148.00,185.55 L148.25,185.55 L148.50,185.55 L148.75,185.55 L149.00,185.55 L149.25,185.55 L149.50,185.55 L149.75,185.55 L150.00,185.55 L150.25,185.55 L150.50,185.55 L150.75,185.54 L151.00,185.54 L151.25,185.54 L151.50,185.54 L151.75,185.54 L152.00,185.53 L152.25,185.53 L152.50,185.53 L152.75,185.53 L153.00,185.52 L153.25,185.52 L153.50,185.52 L153.75,185.51 L154.00,185.51 L154.25,185.50 L154.50,185.50 L154.75,185.50 L155.00,185.49 L155.25,185.49 L155.50,185.48 L155.75,185.48 L156.00,185.47 L156.25,185.47 L156.50,185.46 L156.75,185.45 L157.00,185.45 L157.25,185.44 L157.50,185.44 L157.75,185.43 L158.00,185.42 L158.25,185.42 L158.50,185.41 L158.75,185.40 L159.00,185.39 L159.25,185.39 L159.50,185.38 L159.75,185.37 L160.00,185.36 L160.25,185.35 L160.50,185.35 L160.75,185.34 L161.00,185.33 L161.25,185.32 L161.50,185.31 L161.75,185.30 L162.00,185.29 L162.25,185.28 L162.50,185.27 L162.75,185.26 L163.00,185.25 L163.25,185.25 L163.50,185.24 L163.75,185.22 L164.00,185.21 L164.25,185.20 L164.50,185.19 L164.75,185.18 L165.00,185.17 L165.25,185.16 L165.50,185.15 L165.75,185.14 L166.00,185.13 L166.25,185.12 L166.50,185.11 L166.75,185.09 L167.00,185.08 L167.25,185.07 L167.50,185.06 L167.75,185.05 L168.00,185.03 L168.25,185.02 L168.50,185.01 L168.75,185.00 L169.00,184.99 L169.25,184.97 L169.50,184.96 L169.75,184.95 L170.00,184.94 L170.25,184.92 L170.50,184.91 L170.75,184.90 L171.00,184.88 L171.25,184.87 L171.50,184.86 L171.75,184.84 L172.00,184.83 L172.25,184.82 L172.50,184.80 L172.75,184.79 L173.00,184.78 L173.25,184.76 L173.50,184.75 L173.75,184.74 L174.00,184.72 L174.25,184.71 L174.50,184.70 L174.75,184.68 L175.00,184.67 L175.25,184.65 L175.50,184.64 L175.75,184.63 L176.00,184.61 L176.25,184.60 L176.50,184.58 L176.75,184.57 L177.00,184.56 L177.25,184.54 L177.50,184.53 L177.75,184.51 L178.00,184.50 L178.25,184.48 L178.50,184.47 L178.75,184.46 L179.00,184.44 L179.25,184.43 L179.50,184.41 L179.75,184.40 L180.00,184.38 L180.25,184.37 L180.50,184.35 L180.75,184.34 L181.00,184.33 L181.25,184.31 L181.50,184.30 L181.75,184.28 L182.00,184.27 L182.25,184.25 L182.50,184.24 L182.75,184.23 L183.00,184.21 L183.25,184.20 L183.50,184.18 L183.75,184.17 L184.00,184.15 L184.25,184.14 L184.50,184.12 L184.75,184.11 L185.00,184.10 L185.25,184.08 L185.50,184.07 L185.75,184.05 L186.00,184.04 L186.25,184.02 L186.50,184.01 L186.75,184.00 L187.00,183.98 L187.25,183.97 L187.50,183.95 L187.75,183.94 L188.00,183.92 L188.25,183.91 L188.50,183.90 L188.75,183.88 L189.00,183.87 L189.25,183.85 L189.50,183.84 L189.75,183.83 L190.00,183.81 L190.25,183.80 L190.50,183.79 L190.75,183.77 L191.00,183.76 L191.25,183.74 L191.50,183.73 L191.75,183.72 L192.00,183.70 L192.25,183.69 L192.50,183.68 L192.75,183.66 L193.00,183.65 L193.25,183.64 L193.50,183.62 L193.75,183.61 L194.00,183.60 L194.25,183.58 L194.50,183.57 L194.75,183.56 L195.00,183.54 L195.25,183.53 L195.50,183.52 L195.75,183.50 L196.00,183.49 L196.25,183.48 L196.50,183.47 L196.75,183.45 L197.00,183.44 L197.25,183.43 L197.50,183.41 L197.75,183.40 L198.00,183.39 L198.25,183.38 L198.50,183.36 L198.75,183.35 L199.00,183.34 L199.25,183.33 L199.50,183.31 L199.75,183.30 L200.00,183.29 L201.00,183.24 L202.00,183.19 L203.00,183.15 L204.00,183.10 L205.00,183.05 L206.00,183.01 L207.00,182.97 L208.00,182.92 L209.00,182.88 L210.00,182.84 L211.00,182.80 L212.00,182.76 L213.00,182.72 L214.00,182.68 L215.00,182.64 L216.00,182.60 L217.00,182.56 L218.00,182.53 L219.00,182.49 L220.00,182.45 L221.00,182.42 L222.00,182.39 L223.00,182.35 L224.00,182.32 L225.00,182.28 L226.00,182.25 L227.00,182.22 L228.00,182.19 L229.00,182.16 L230.00,182.12 L231.00,182.09 L232.00,182.06 L233.00,182.03 L234.00,182.00 L235.00,181.97 L236.00,181.94 L237.00,181.92 L238.00,181.89 L239.00,181.86 L240.00,181.83 L241.00,181.80 L242.00,181.77 L243.00,181.74 L244.00,181.72 L245.00,181.69 L246.00,181.66 L247.00,181.63 L248.00,181.61 L249.00,181.58 L250.00,181.55 L251.00,181.53 L252.00,181.50 L253.00,181.47 L254.00,181.45 L255.00,181.42 L256.00,181.39 L257.00,181.37 L258.00,181.34 L259.00,181.31 L260.00,181.29 L261.00,181.26 L262.00,181.23 L263.00,181.21 L264.00,181.18 L265.00,181.16 L266.00,181.13 L267.00,181.11 L268.00,181.08 L269.00,181.05 L270.00,181.03 L271.00,181.00 L272.00,180.98 L273.00,180.95 L274.00,180.93 L275.00,180.90 L276.00,180.88 L277.00,180.85 L278.00,180.83 L279.00,180.80 L280.00,180.78 L281.00,180.75 L282.00,180.73 L283.00,180.71 L284.00,180.68 L285.00,180.66 L286.00,180.63 L287.00,180.61 L288.00,180.59 L289.00,180.56 L290.00,180.54 L291.00,180.52 L292.00,180.49 L293.00,180.47 L294.00,180.45 L295.00,180.43 L296.00,180.40 L297.00,180.38 L298.00,180.36 L299.00,180.34 L300.00,180.32 L301.00,180.29 L302.00,180.27 L303.00,180.25 L304.00,180.23 L305.00,180.21 L306.00,180.19 L307.00,180.17 L308.00,180.15 L309.00,180.13 L310.00,180.11 L311.00,180.09 L312.00,180.07 L313.00,180.05 L314.00,180.03 L315.00,180.02 L316.00,180.00 L317.00,179.98 L318.00,179.96 L319.00,179.94 L320.00,179.93 L321.00,179.91 L322.00,179.89 L323.00,179.88 L324.00,179.86 L325.00,179.84 L326.00,179.83 L327.00,179.81 L328.00,179.80 L329.00,179.78 L330.00,179.77 L331.00,179.75 L332.00,179.74 L333.00,179.72 L334.00,179.71 L335.00,179.69 L336.00,179.68 L337.00,179.67 L338.00,179.65 L339.00,179.64 L340.00,179.63 L341.00,179.61 L342.00,179.60 L343.00,179.59 L344.00,179.58 L345.00,179.57 L346.00,179.55 L347.00,179.54 L348.00,179.53 L349.00,179.52 L350.00,179.51 L351.00,179.50 L352.00,179.49 L353.00,179.48 L354.00,179.47 L355.00,179.46 L356.00,179.45 L357.00,179.44 L358.00,179.43 L359.00,179.42 L360.00,179.41 L361.00,179.40 L362.00,179.40 L363.00,179.39 L364.00,179.38 L365.00,179.37 L366.00,179.36 L367.00,179.35 L368.00,179.35 L369.00,179.34 L370.00,179.33 L371.00,179.33 L372.00,179.32 L373.00,179.31 L374.00,179.31 L375.00,179.30 L376.00,179.29 L377.00,179.29 L378.00,179.28 L379.00,179.27 L380.00,179.27 L381.00,179.26 L382.00,179.26 L383.00,179.25 L384.00,179.25 L385.00,179.24 L386.00,179.24 L387.00,179.23 L388.00,179.23 L389.00,179.22 L390.00,179.22 L391.00,179.21 L392.00,179.21 L393.00,179.20 L394.00,179.20 L395.00,179.20 L396.00,179.19 L397.00,179.19 L398.00,179.18 L399.00,179.18 L400.00,179.18 L401.00,179.17 L402.00,179.17 L403.00,179.17 L404.00,179.16 L405.00,179.16 L406.00,179.16 L407.00,179.15 L408.00,179.15 L409.00,179.15 L410.00,179.15 L411.00,179.14 L412.00,179.14 L413.00,179.14 L414.00,179.14 L415.00,179.13 L416.00,179.13 L417.00,179.13 L418.00,179.13 L419.00,179.12 L420.00,179.12 L421.00,179.12 L422.00,179.12 L423.00,179.12 L424.00,179.11 L425.00,179.11 L426.00,179.11 L427.00,179.11 L427.90,179.11" stroke="#ffa500" stroke-width="1.4" stroke-dasharray="5.8 3.55 1.2 2.8 1.2 3.45" stroke-dashoffset="8.21"/>
<path d="M44.95,269.00 L47.30,257.00 L48.30,256.80 L50.00,259.10 L50.00,259.10 L51.40,260.70 L52.30,260.09 L52.55,259.81 L52.80,259.53 L53.05,259.25 L53.30,258.96 L53.55,258.67 L53.80,258.38 L54.05,258.09 L54.30,257.79 L54.55,257.49 L54.80,257.19 L55.05,256.89 L55.30,256.59 L55.55,256.28 L55.80,255.97 L56.05,255.66 L56.30,255.35 L56.55,255.03 L56.80,254.72 L57.05,254.40 L57.30,254.08 L57.55,253.76 L57.80,253.43 L58.05,253.11 L58.30,252.78 L58.55,252.45 L58.80,252.12 L59.05,251.79 L59.30,251.45 L59.55,251.12 L59.80,250.78 L60.05,250.44 L60.30,250.10 L60.55,249.76 L60.80,249.42 L61.05,249.08 L61.30,248.73 L61.55,248.39 L61.80,248.04 L62.05,247.69 L62.30,247.35 L62.55,247.00 L62.80,246.65 L63.05,246.30 L63.30,245.94 L63.55,245.59 L63.80,245.24 L64.05,244.88 L64.30,244.53 L64.55,244.17 L64.80,243.82 L65.05,243.46 L65.30,243.10 L65.55,242.74 L65.80,242.38 L66.05,242.03 L66.30,241.67 L66.55,241.31 L66.80,240.95 L67.05,240.59 L67.30,240.23 L67.55,239.86 L67.80,239.50 L68.05,239.14 L68.30,238.78 L68.55,238.42 L68.80,238.05 L69.05,237.69 L69.30,237.33 L69.55,236.97 L69.80,236.60 L70.05,236.24 L70.30,235.88 L70.55,235.52 L70.80,235.15 L71.05,234.79 L71.30,234.43 L71.55,234.07 L71.80,233.71 L72.05,233.34 L72.30,232.98 L72.55,232.62 L72.80,232.26 L73.05,231.90 L73.30,231.54 L73.55,231.18 L73.80,230.82 L74.05,230.46 L74.30,230.11 L74.55,229.75 L74.80,229.39 L75.05,229.03 L75.30,228.68 L75.55,228.32 L75.80,227.97 L76.05,227.62 L76.30,227.26 L76.55,226.91 L76.80,226.56 L77.05,226.21 L77.30,225.86 L77.55,225.51 L77.80,225.16 L78.05,224.82 L78.30,224.47 L78.55,224.12 L78.80,223.78 L79.05,223.44 L79.30,223.10 L79.55,222.76 L79.80,222.42 L80.05,222.08 L80.30,221.74 L80.55,221.41 L80.80,221.07 L81.05,220.74 L81.30,220.41 L81.55,220.08 L81.80,219.75 L82.05,219.42 L82.30,219.10 L82.55,218.77 L82.80,218.45 L83.05,218.13 L83.30,217.81 L83.55,217.49 L83.80,217.17 L84.05,216.86 L84.30,216.55 L84.55,216.23 L84.80,215.93 L85.05,215.62 L85.30,215.31 L85.55,215.01 L85.80,214.70 L86.05,214.40 L86.30,214.11 L86.55,213.81 L86.80,213.51 L87.05,213.22 L87.30,212.93 L87.55,212.64 L87.80,212.35 L88.05,212.07 L88.30,211.78 L88.55,211.50 L88.80,211.22 L89.05,210.95 L89.30,210.67 L89.55,210.40 L89.80,210.13 L90.05,209.86 L90.30,209.59 L90.55,209.33 L90.80,209.07 L91.05,208.80 L91.30,208.55 L91.55,208.29 L91.80,208.04 L92.05,207.79 L92.30,207.54 L92.55,207.29 L92.80,207.04 L93.05,206.80 L93.30,206.56 L93.55,206.32 L93.80,206.09 L94.05,205.85 L94.30,205.62 L94.55,205.39 L94.80,205.16 L95.05,204.94 L95.30,204.72 L95.55,204.50 L95.80,204.28 L96.05,204.06 L96.30,203.85 L96.55,203.64 L96.80,203.43 L97.05,203.22 L97.30,203.02 L97.55,202.82 L97.80,202.61 L98.05,202.42 L98.30,202.22 L98.55,202.03 L98.80,201.84 L99.05,201.65 L99.30,201.46 L99.55,201.28 L99.80,201.09 L100.05,200.91 L100.30,200.73 L100.55,200.56 L100.80,200.38 L101.05,200.21 L101.30,200.04 L101.55,199.88 L101.80,199.71 L102.05,199.55 L102.30,199.39 L102.55,199.23 L102.80,199.07 L103.05,198.92 L103.30,198.76 L103.55,198.61 L103.80,198.46 L104.05,198.32 L104.30,198.17 L104.55,198.03 L104.80,197.89 L105.05,197.75 L105.30,197.61 L105.55,197.48 L105.80,197.34 L106.05,197.21 L106.30,197.08 L106.55,196.95 L106.80,196.83 L107.05,196.70 L107.30,196.58 L107.55,196.46 L107.80,196.34 L108.05,196.23 L108.30,196.11 L108.55,196.00 L108.80,195.89 L109.05,195.78 L109.30,195.67 L109.55,195.56 L109.80,195.46 L110.05,195.36 L110.30,195.25 L110.55,195.15 L110.80,195.06 L111.05,194.96 L111.30,194.86 L111.55,194.77 L111.80,194.68 L112.05,194.59 L112.30,194.50 L112.55,194.41 L112.80,194.32 L113.05,194.24 L113.30,194.15 L113.55,194.07 L113.80,193.99 L114.05,193.91 L114.30,193.83 L114.55,193.76 L114.80,193.68 L115.05,193.61 L115.30,193.53 L115.55,193.46 L115.80,193.39 L116.05,193.32 L116.30,193.26 L116.55,193.19 L116.80,193.12 L117.05,193.06 L117.30,192.99 L117.55,192.93 L117.80,192.87 L118.05,192.81 L118.30,192.75 L118.55,192.69 L118.80,192.64 L119.05,192.58 L119.30,192.52 L119.55,192.47 L119.80,192.42 L120.05,192.37 L120.30,192.31 L120.55,192.26 L120.80,192.21 L121.05,192.17 L121.30,192.12 L121.55,192.07 L121.80,192.02 L122.05,191.98 L122.30,191.93 L122.55,191.89 L122.80,191.85 L123.05,191.80 L123.30,191.76 L123.55,191.72 L123.80,191.68 L124.05,191.64 L124.30,191.60 L124.55,191.57 L124.80,191.53 L125.05,191.49 L125.30,191.46 L125.55,191.42 L125.80,191.38 L126.05,191.35 L126.30,191.32 L126.55,191.28 L126.80,191.25 L127.05,191.22 L127.30,191.19 L127.55,191.15 L127.80,191.12 L128.05,191.09 L128.30,191.06 L128.55,191.03 L128.80,191.01 L129.05,190.98 L129.30,190.95 L129.55,190.92 L129.80,190.89 L130.05,190.87 L130.30,190.84 L130.55,190.81 L130.80,190.79 L131.05,190.76 L131.30,190.74 L131.55,190.71 L131.80,190.69 L132.05,190.66 L132.30,190.64 L132.55,190.62 L132.80,190.59 L133.05,190.57 L133.30,190.55 L133.55,190.52 L133.80,190.50 L134.05,190.48 L134.30,190.46 L134.55,190.44 L134.80,190.42 L135.05,190.39 L135.30,190.37 L135.55,190.35 L135.80,190.33 L136.05,190.31 L136.30,190.29 L136.55,190.27 L136.80,190.25 L137.05,190.23 L137.30,190.21 L137.55,190.19 L137.80,190.17 L138.05,190.15 L138.30,190.13 L138.55,190.11 L138.80,190.10 L139.05,190.08 L139.30,190.06 L139.55,190.04 L139.80,190.02 L140.05,190.00 L140.30,189.98 L140.55,189.96 L140.80,189.95 L141.05,189.93 L141.30,189.91 L141.55,189.89 L141.80,189.87 L142.05,189.86 L142.30,189.84 L142.55,189.82 L142.80,189.80 L143.05,189.78 L143.30,189.77 L143.55,189.75 L143.80,189.73 L144.05,189.71 L144.30,189.69 L144.55,189.68 L144.80,189.66 L145.05,189.64 L145.30,189.62 L145.55,189.60 L145.80,189.59 L146.05,189.57 L146.30,189.55 L146.55,189.53 L146.80,189.51 L147.05,189.50 L147.30,189.48 L147.55,189.46 L147.80,189.44 L148.05,189.42 L148.30,189.41 L148.55,189.39 L148.80,189.37 L149.05,189.35 L149.30,189.33 L149.55,189.31 L149.80,189.30 L150.05,189.28 L150.30,189.26 L150.55,189.24 L150.80,189.22 L151.05,189.20 L151.30,189.19 L151.55,189.17 L151.80,189.15 L152.05,189.13 L152.30,189.11 L152.55,189.09 L152.80,189.07 L153.05,189.05 L153.30,189.04 L153.55,189.02 L153.80,189.00 L154.05,188.98 L154.30,188.96 L154.55,188.94 L154.80,188.92 L155.05,188.90 L155.30,188.88 L155.55,188.86 L155.80,188.84 L156.05,188.82 L156.30,188.81 L156.55,188.79 L156.80,188.77 L157.05,188.75 L157.30,188.73 L157.55,188.71 L157.80,188.69 L158.05,188.67 L158.30,188.65 L158.55,188.63 L158.80,188.61 L159.05,188.59 L159.30,188.57 L159.55,188.55 L159.80,188.53 L160.05,188.51 L160.30,188.49 L160.55,188.47 L160.80,188.45 L161.05,188.43 L161.30,188.41 L161.55,188.39 L161.80,188.37 L162.05,188.34 L162.30,188.32 L162.55,188.30 L162.80,188.28 L163.05,188.26 L163.30,188.24 L163.55,188.22 L163.80,188.20 L164.05,188.18 L164.30,188.16 L164.55,188.14 L164.80,188.12 L165.05,188.10 L165.30,188.08 L165.55,188.06 L165.80,188.03 L166.05,188.01 L166.30,187.99 L166.55,187.97 L166.80,187.95 L167.05,187.93 L167.30,187.91 L167.55,187.89 L167.80,187.87 L168.05,187.85 L168.30,187.82 L168.55,187.80 L168.80,187.78 L169.05,187.76 L169.30,187.74 L169.55,187.72 L169.80,187.70 L170.05,187.68 L170.30,187.66 L170.55,187.63 L170.80,187.61 L171.05,187.59 L171.30,187.57 L171.55,187.55 L171.80,187.53 L172.05,187.51 L172.30,187.49 L172.55,187.47 L172.80,187.44 L173.05,187.42 L173.30,187.40 L173.55,187.38 L173.80,187.36 L174.05,187.34 L174.30,187.32 L174.55,187.30 L174.80,187.28 L175.05,187.26 L175.30,187.23 L175.55,187.21 L175.80,187.19 L176.05,187.17 L176.30,187.15 L176.55,187.13 L176.80,187.11 L177.05,187.09 L177.30,187.07 L177.55,187.05 L177.80,187.03 L178.05,187.01 L178.30,186.98 L178.55,186.96 L178.80,186.94 L179.05,186.92 L179.30,186.90 L179.55,186.88 L179.80,186.86 L180.05,186.84 L180.30,186.82 L180.55,186.80 L180.80,186.78 L181.05,186.76 L181.30,186.74 L181.55,186.72 L181.80,186.70 L182.05,186.68 L182.30,186.66 L182.55,186.64 L182.80,186.62 L183.05,186.60 L183.30,186.58 L183.55,186.56 L183.80,186.54 L184.05,186.52 L184.30,186.50 L184.55,186.48 L184.80,186.46 L185.05,186.44 L185.30,186.42 L185.55,186.40 L185.80,186.38 L186.05,186.36 L186.30,186.34 L186.55,186.32 L186.80,186.30 L187.05,186.28 L187.30,186.26 L187.55,186.24 L187.80,186.22 L188.05,186.20 L188.30,186.18 L188.55,186.16 L188.80,186.15 L189.05,186.13 L189.30,186.11 L189.55,186.09 L189.80,186.07 L190.05,186.05 L190.30,186.03 L190.55,186.01 L190.80,185.99 L191.05,185.98 L191.30,185.96 L191.55,185.94 L191.80,185.92 L192.05,185.90 L192.30,185.88 L192.55,185.87 L192.80,185.85 L193.05,185.83 L193.30,185.81 L193.55,185.79 L193.80,185.77 L194.05,185.76 L194.30,185.74 L194.55,185.72 L194.80,185.70 L195.05,185.69 L195.30,185.67 L195.55,185.65 L195.80,185.63 L196.05,185.61 L196.30,185.60 L196.55,185.58 L196.80,185.56 L197.05,185.54 L197.30,185.53 L197.55,185.51 L197.80,185.49 L198.05,185.48 L198.30,185.46 L198.55,185.44 L198.80,185.42 L199.05,185.41 L199.30,185.39 L199.55,185.37 L199.80,185.36 L200.00,185.34 L201.00,185.28 L202.00,185.21 L203.00,185.15 L204.00,185.08 L205.00,185.02 L206.00,184.96 L207.00,184.90 L208.00,184.83 L209.00,184.77 L210.00,184.71 L211.00,184.66 L212.00,184.60 L213.00,184.54 L214.00,184.48 L215.00,184.43 L216.00,184.37 L217.00,184.32 L218.00,184.26 L219.00,184.21 L220.00,184.16 L221.00,184.11 L222.00,184.05 L223.00,184.00 L224.00,183.95 L225.00,183.90 L226.00,183.85 L227.00,183.80 L228.00,183.75 L229.00,183.70 L230.00,183.65 L231.00,183.61 L232.00,183.56 L233.00,183.51 L234.00,183.46 L235.00,183.42 L236.00,183.37 L237.00,183.33 L238.00,183.28 L239.00,183.23 L240.00,183.19 L241.00,183.14 L242.00,183.10 L243.00,183.06 L244.00,183.01 L245.00,182.97 L246.00,182.92 L247.00,182.88 L248.00,182.84 L249.00,182.80 L250.00,182.75 L251.00,182.71 L252.00,182.67 L253.00,182.63 L254.00,182.58 L255.00,182.54 L256.00,182.50 L257.00,182.46 L258.00,182.42 L259.00,182.38 L260.00,182.34 L261.00,182.30 L262.00,182.26 L263.00,182.22 L264.00,182.18 L265.00,182.14 L266.00,182.10 L267.00,182.06 L268.00,182.02 L269.00,181.98 L270.00,181.95 L271.00,181.91 L272.00,181.87 L273.00,181.83 L274.00,181.80 L275.00,181.76 L276.00,181.72 L277.00,181.69 L278.00,181.65 L279.00,181.61 L280.00,181.58 L281.00,181.54 L282.00,181.51 L283.00,181.47 L284.00,181.44 L285.00,181.40 L286.00,181.37 L287.00,181.34 L288.00,181.30 L289.00,181.27 L290.00,181.24 L291.00,181.21 L292.00,181.17 L293.00,181.14 L294.00,181.11 L295.00,181.08 L296.00,181.05 L297.00,181.02 L298.00,180.99 L299.00,180.96 L300.00,180.93 L301.00,180.90 L302.00,180.87 L303.00,180.84 L304.00,180.82 L305.00,180.79 L306.00,180.76 L307.00,180.73 L308.00,180.71 L309.00,180.68 L310.00,180.66 L311.00,180.63 L312.00,180.61 L313.00,180.58 L314.00,180.56 L315.00,180.53 L316.00,180.51 L317.00,180.48 L318.00,180.46 L319.00,180.44 L320.00,180.42 L321.00,180.39 L322.00,180.37 L323.00,180.35 L324.00,180.33 L325.00,180.31 L326.00,180.29 L327.00,180.27 L328.00,180.25 L329.00,180.23 L330.00,180.21 L331.00,180.19 L332.00,180.17 L333.00,180.15 L334.00,180.14 L335.00,180.12 L336.00,180.10 L337.00,180.09 L338.00,180.07 L339.00,180.05 L340.00,180.04 L341.00,180.02 L342.00,180.01 L343.00,179.99 L344.00,179.98 L345.00,179.96 L346.00,179.95 L347.00,179.93 L348.00,179.92 L349.00,179.91 L350.00,179.89 L351.00,179.88 L352.00,179.87 L353.00,179.85 L354.00,179.84 L355.00,179.83 L356.00,179.82 L357.00,179.81 L358.00,179.80 L359.00,179.78 L360.00,179.77 L361.00,179.76 L362.00,179.75 L363.00,179.74 L364.00,179.73 L365.00,179.72 L366.00,179.71 L367.00,179.70 L368.00,179.70 L369.00,179.69 L370.00,179.68 L371.00,179.67 L372.00,179.66 L373.00,179.65 L374.00,179.64 L375.00,179.64 L376.00,179.63 L377.00,179.62 L378.00,179.62 L379.00,179.61 L380.00,179.60 L381.00,179.59 L382.00,179.59 L383.00,179.58 L384.00,179.58 L385.00,179.57 L386.00,179.56 L387.00,179.56 L388.00,179.55 L389.00,179.55 L390.00,179.54 L391.00,179.54 L392.00,179.53 L393.00,179.53 L394.00,179.52 L395.00,179.52 L396.00,179.51 L397.00,179.51 L398.00,179.50 L399.00,179.50 L400.00,179.49 L401.00,179.49 L402.00,179.49 L403.00,179.48 L404.00,179.48 L405.00,179.47 L406.00,179.47 L407.00,179.47 L408.00,179.46 L409.00,179.46 L410.00,179.46 L411.00,179.45 L412.00,179.45 L413.00,179.45 L414.00,179.45 L415.00,179.44 L416.00,179.44 L417.00,179.44 L418.00,179.44 L419.00,179.43 L420.00,179.43 L421.00,179.43 L422.00,179.43 L423.00,179.42 L424.00,179.42 L425.00,179.42 L426.00,179.42 L427.00,179.41 L427.90,179.41" stroke="#000" stroke-width="1"/>
</g>
<g stroke="#000" stroke-width="1" fill="none">
<rect x="44.95" y="1.0" width="382.90000000000003" height="267.9"/>
<path d="M70.47,268.9v-3.9M70.47,1.0v3.9M96.01,268.9v-7.8M96.01,1.0v7.8M121.54,268.9v-3.9M121.54,1.0v3.9M147.07,268.9v-7.8M147.07,1.0v7.8M172.61,268.9v-3.9M172.61,1.0v3.9M198.14,268.9v-7.8M198.14,1.0v7.8M223.67,268.9v-3.9M223.67,1.0v3.9M249.20,268.9v-7.8M249.20,1.0v7.8M274.74,268.9v-3.9M274.74,1.0v3.9M300.27,268.9v-7.8M300.27,1.0v7.8M325.80,268.9v-3.9M325.80,1.0v3.9M351.34,268.9v-7.8M351.34,1.0v7.8M376.87,268.9v-3.9M376.87,1.0v3.9M402.40,268.9v-7.8M402.40,1.0v7.8M44.95,239.22h3.9M427.85,239.22h-3.9M44.95,209.44h7.8M427.85,209.44h-7.8M44.95,179.67h3.9M427.85,179.67h-3.9M44.95,149.89h7.8M427.85,149.89h-7.8M44.95,120.11h3.9M427.85,120.11h-3.9M44.95,90.33h7.8M427.85,90.33h-7.8M44.95,60.55h3.9M427.85,60.55h-3.9M44.95,30.78h7.8M427.85,30.78h-7.8"/>
</g>
<g font-family="Liberation Sans, sans-serif" font-size="10.75" fill="#000">
<text x="44.94" y="280.8" text-anchor="middle" font-size="10.6">0</text>
<text x="96.01" y="280.8" text-anchor="middle" font-size="10.6">2</text>
<text x="147.07" y="280.8" text-anchor="middle" font-size="10.6">4</text>
<text x="198.14" y="280.8" text-anchor="middle" font-size="10.6">6</text>
<text x="249.20" y="280.8" text-anchor="middle" font-size="10.6">8</text>
<text x="300.27" y="280.8" text-anchor="middle" font-size="10.6">10</text>
<text x="351.34" y="280.8" text-anchor="middle" font-size="10.6">12</text>
<text x="402.40" y="280.8" text-anchor="middle" font-size="10.6">14</text>
<text x="41.3" y="272.85" text-anchor="end" font-size="10.6">0</text>
<text x="41.3" y="213.29" text-anchor="end" font-size="10.6">0.01</text>
<text x="41.3" y="153.74" text-anchor="end" font-size="10.6">0.02</text>
<text x="41.3" y="94.18" text-anchor="end" font-size="10.6">0.03</text>
<text x="41.3" y="34.63" text-anchor="end" font-size="10.6">0.04</text>
<text x="236.5" y="292.7" text-anchor="middle">R (fm)</text>
<text transform="translate(12.7,185.2) rotate(-90)" font-size="10.9">|G<tspan font-size="7.8" dy="4.5" font-style="italic">l</tspan><tspan dy="-4.5">(R,R)| (MeV</tspan><tspan font-size="7.8" dy="-6.9">-1</tspan><tspan dy="6.9">fm</tspan><tspan font-size="7.8" dy="-6.9">-1</tspan><tspan dy="6.9">)</tspan></text>
<path d="M317.65,27.90H333.0" fill="none" stroke="#000" stroke-width="2.4"/>
<text x="341.0" y="31.90"><tspan font-style="italic">l</tspan><tspan dx="0.8"> =</tspan><tspan dx="-0.45"> 0</tspan></text>
<path d="M317.65,39.97H333.0" fill="none" stroke="#ff0000" stroke-width="1.9" stroke-dasharray="7.8 3.9"/>
<text x="341.0" y="43.97"><tspan font-style="italic">l</tspan><tspan dx="0.8"> =</tspan><tspan dx="-0.45"> 1</tspan></text>
<path d="M317.65,52.04H333.0" fill="none" stroke="#008b00" stroke-width="1.9" stroke-dasharray="1.6 4.0 7.9 4.0"/>
<text x="341.0" y="56.04"><tspan font-style="italic">l</tspan><tspan dx="0.8"> =</tspan><tspan dx="-0.45"> 2</tspan></text>
<path d="M317.65,64.11H333.0" fill="none" stroke="#0000ff" stroke-width="2.3" stroke-dasharray="2.3 6"/>
<text x="341.0" y="68.11"><tspan font-style="italic">l</tspan><tspan dx="0.8"> =</tspan><tspan dx="-0.45"> 3</tspan></text>
<path d="M317.65,76.18H333.0" fill="none" stroke="#ff00ff" stroke-width="1.4"/>
<text x="341.0" y="80.18"><tspan font-style="italic">l</tspan><tspan dx="0.8"> =</tspan><tspan dx="-0.45"> 4</tspan></text>
<path d="M317.65,88.25H333.0" fill="none" stroke="#ffa500" stroke-width="1.4" stroke-dasharray="5.8 3.4 1.2 2.8 1.2 3.9" stroke-dashoffset="13.85"/>
<text x="341.0" y="92.25"><tspan font-style="italic">l</tspan><tspan dx="0.8"> =</tspan><tspan dx="-0.45"> 5</tspan></text>
<path d="M317.65,100.32H333.0" fill="none" stroke="#000" stroke-width="1"/>
<text x="341.0" y="104.32"><tspan font-style="italic">l</tspan><tspan dx="0.8"> =</tspan><tspan dx="-0.45"> 6</tspan></text>
</g>
</svg>
</body></html>
